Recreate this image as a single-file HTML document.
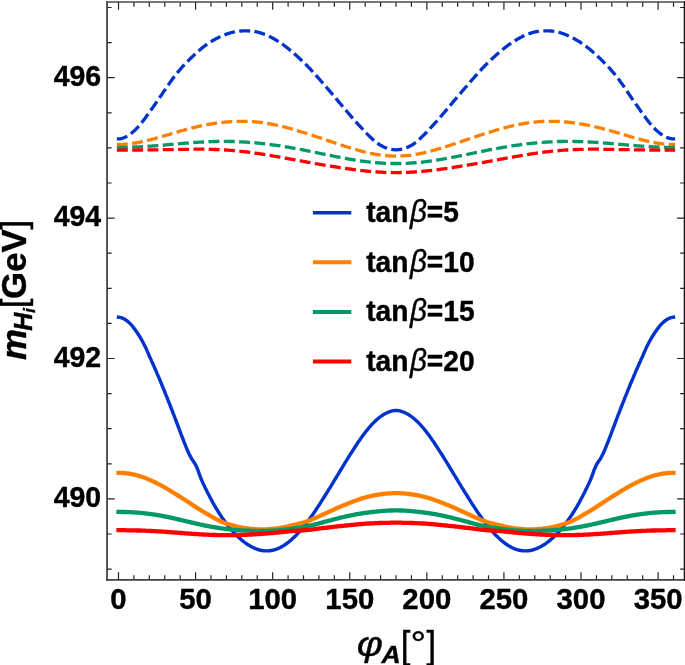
<!DOCTYPE html>
<html><head><meta charset="utf-8"><title>plot</title>
<style>
html,body{margin:0;padding:0;background:#fff;}
svg{display:block;will-change:transform;}
text{font-family:"Liberation Sans",sans-serif;font-weight:bold;fill:#000;stroke:#000;stroke-width:0.4px;stroke-linejoin:round;}
</style></head>
<body>
<svg width="685" height="665" viewBox="0 0 685 665">
<rect width="685" height="665" fill="#fff"/>
<g fill="none" stroke-linecap="square" stroke-linejoin="round">
<path d="M118.5 317.2 L119.3 317.3 L120.0 317.4 L120.8 317.6 L121.6 317.8 L122.4 318.1 L123.1 318.5 L123.9 318.8 L124.7 319.3 L125.4 319.7 L126.2 320.3 L127.0 320.8 L127.8 321.4 L128.5 322.1 L129.3 322.8 L130.1 323.6 L130.8 324.3 L131.6 325.2 L132.4 326.1 L133.1 327.1 L133.9 328.1 L134.7 329.1 L135.5 330.2 L136.2 331.3 L137.0 332.4 L137.8 333.6 L138.5 334.8 L139.3 336.0 L140.1 337.2 L140.9 338.5 L141.6 339.9 L142.4 341.2 L143.2 342.7 L143.9 344.2 L144.7 345.7 L145.5 347.3 L146.3 348.9 L147.0 350.6 L147.8 352.4 L148.6 354.3 L149.3 356.0 L150.1 357.7 L150.9 359.4 L151.6 361.1 L152.4 362.8 L153.2 364.6 L154.0 366.3 L154.7 368.0 L155.5 369.8 L156.3 371.6 L157.0 373.4 L157.8 375.2 L158.6 377.0 L159.4 378.8 L160.1 380.7 L160.9 382.5 L161.7 384.4 L162.4 386.3 L163.2 388.1 L164.0 390.0 L164.8 391.9 L165.5 393.9 L166.3 395.8 L167.1 397.7 L167.8 399.6 L168.6 401.6 L169.4 403.5 L170.1 405.5 L170.9 407.5 L171.7 409.5 L172.5 411.4 L173.2 413.4 L174.0 415.4 L174.8 417.5 L175.5 419.5 L176.3 421.5 L177.1 423.6 L177.9 425.6 L178.6 427.7 L179.4 429.7 L180.2 431.8 L180.9 433.8 L181.7 435.8 L182.5 437.8 L183.3 439.8 L184.0 441.8 L184.8 443.8 L185.6 445.7 L186.3 447.7 L187.1 449.6 L187.9 451.4 L188.6 453.0 L189.4 454.6 L190.2 456.1 L191.0 457.6 L191.7 458.9 L192.5 460.1 L193.3 461.2 L194.0 462.3 L194.8 463.5 L195.6 464.8 L196.4 466.4 L197.1 468.2 L197.9 470.2 L198.7 472.3 L199.4 474.4 L200.2 476.5 L201.0 478.5 L201.8 480.4 L202.5 482.1 L203.3 483.8 L204.1 485.4 L204.8 487.0 L205.6 488.6 L206.4 490.1 L207.1 491.7 L207.9 493.2 L208.7 494.7 L209.5 496.2 L210.2 497.7 L211.0 499.1 L211.8 500.6 L212.5 502.0 L213.3 503.4 L214.1 504.8 L214.9 506.1 L215.6 507.5 L216.4 508.8 L217.2 510.0 L217.9 511.3 L218.7 512.5 L219.5 513.7 L220.3 514.9 L221.0 516.0 L221.8 517.2 L222.6 518.3 L223.3 519.4 L224.1 520.4 L224.9 521.5 L225.6 522.6 L226.4 523.6 L227.2 524.6 L228.0 525.6 L228.7 526.6 L229.5 527.5 L230.3 528.5 L231.0 529.4 L231.8 530.3 L232.6 531.1 L233.4 532.0 L234.1 532.8 L234.9 533.6 L235.7 534.4 L236.4 535.2 L237.2 536.0 L238.0 536.7 L238.8 537.4 L239.5 538.1 L240.3 538.8 L241.1 539.5 L241.8 540.2 L242.6 540.8 L243.4 541.4 L244.1 542.0 L244.9 542.6 L245.7 543.2 L246.5 543.7 L247.2 544.2 L248.0 544.7 L248.8 545.2 L249.5 545.7 L250.3 546.1 L251.1 546.5 L251.9 546.9 L252.6 547.3 L253.4 547.7 L254.2 548.0 L254.9 548.4 L255.7 548.7 L256.5 549.0 L257.3 549.3 L258.0 549.5 L258.8 549.8 L259.6 550.0 L260.3 550.2 L261.1 550.3 L261.9 550.5 L262.6 550.6 L263.4 550.7 L264.2 550.8 L265.0 550.9 L265.7 550.9 L266.5 550.9 L267.3 550.9 L268.0 550.9 L268.8 550.8 L269.6 550.8 L270.4 550.7 L271.1 550.5 L271.9 550.4 L272.7 550.2 L273.4 550.1 L274.2 549.8 L275.0 549.6 L275.8 549.4 L276.5 549.1 L277.3 548.8 L278.1 548.5 L278.8 548.1 L279.6 547.8 L280.4 547.4 L281.1 547.0 L281.9 546.6 L282.7 546.1 L283.5 545.7 L284.2 545.2 L285.0 544.7 L285.8 544.2 L286.5 543.6 L287.3 543.0 L288.1 542.5 L288.9 541.9 L289.6 541.2 L290.4 540.6 L291.2 539.9 L291.9 539.2 L292.7 538.5 L293.5 537.8 L294.3 537.1 L295.0 536.3 L295.8 535.6 L296.6 534.8 L297.3 534.0 L298.1 533.1 L298.9 532.3 L299.6 531.4 L300.4 530.6 L301.2 529.7 L302.0 528.8 L302.7 527.8 L303.5 526.9 L304.3 525.9 L305.0 525.0 L305.8 524.0 L306.6 523.0 L307.4 522.0 L308.1 520.9 L308.9 519.9 L309.7 518.9 L310.4 517.8 L311.2 516.7 L312.0 515.6 L312.8 514.5 L313.5 513.4 L314.3 512.3 L315.1 511.1 L315.8 510.0 L316.6 508.8 L317.4 507.6 L318.2 506.5 L318.9 505.3 L319.7 504.1 L320.5 502.9 L321.2 501.7 L322.0 500.4 L322.8 499.2 L323.5 498.0 L324.3 496.8 L325.1 495.5 L325.9 494.3 L326.6 493.1 L327.4 491.8 L328.2 490.6 L328.9 489.3 L329.7 488.1 L330.5 486.8 L331.3 485.6 L332.0 484.3 L332.8 483.1 L333.6 481.8 L334.3 480.5 L335.1 479.3 L335.9 478.0 L336.7 476.7 L337.4 475.4 L338.2 474.2 L339.0 472.9 L339.7 471.6 L340.5 470.3 L341.3 469.0 L342.0 467.8 L342.8 466.5 L343.6 465.2 L344.4 463.9 L345.1 462.7 L345.9 461.4 L346.7 460.2 L347.4 458.9 L348.2 457.7 L349.0 456.4 L349.8 455.2 L350.5 454.0 L351.3 452.8 L352.1 451.6 L352.8 450.4 L353.6 449.2 L354.4 448.0 L355.2 446.8 L355.9 445.6 L356.7 444.5 L357.5 443.3 L358.2 442.1 L359.0 441.0 L359.8 439.9 L360.5 438.8 L361.3 437.7 L362.1 436.6 L362.9 435.6 L363.6 434.5 L364.4 433.5 L365.2 432.5 L365.9 431.5 L366.7 430.5 L367.5 429.6 L368.3 428.6 L369.0 427.7 L369.8 426.8 L370.6 425.9 L371.3 425.1 L372.1 424.2 L372.9 423.4 L373.7 422.6 L374.4 421.9 L375.2 421.1 L376.0 420.4 L376.7 419.7 L377.5 419.0 L378.3 418.4 L379.0 417.8 L379.8 417.2 L380.6 416.6 L381.4 416.1 L382.1 415.5 L382.9 415.0 L383.7 414.5 L384.4 414.1 L385.2 413.7 L386.0 413.3 L386.8 412.9 L387.5 412.5 L388.3 412.2 L389.1 411.9 L389.8 411.6 L390.6 411.4 L391.4 411.1 L392.2 410.9 L392.9 410.8 L393.7 410.6 L394.5 410.5 L395.2 410.5 L396.0 410.4 L396.8 410.5 L397.5 410.5 L398.3 410.6 L399.1 410.8 L399.9 410.9 L400.6 411.1 L401.4 411.4 L402.2 411.6 L402.9 411.9 L403.7 412.2 L404.5 412.5 L405.3 412.9 L406.0 413.3 L406.8 413.7 L407.6 414.1 L408.3 414.5 L409.1 415.0 L409.9 415.5 L410.7 416.1 L411.4 416.6 L412.2 417.2 L413.0 417.8 L413.7 418.4 L414.5 419.0 L415.3 419.7 L416.0 420.4 L416.8 421.1 L417.6 421.9 L418.4 422.6 L419.1 423.4 L419.9 424.2 L420.7 425.1 L421.4 425.9 L422.2 426.8 L423.0 427.7 L423.8 428.6 L424.5 429.6 L425.3 430.5 L426.1 431.5 L426.8 432.5 L427.6 433.5 L428.4 434.5 L429.2 435.6 L429.9 436.6 L430.7 437.7 L431.5 438.8 L432.2 439.9 L433.0 441.0 L433.8 442.1 L434.5 443.3 L435.3 444.5 L436.1 445.6 L436.9 446.8 L437.6 448.0 L438.4 449.2 L439.2 450.4 L439.9 451.6 L440.7 452.8 L441.5 454.0 L442.3 455.2 L443.0 456.4 L443.8 457.7 L444.6 458.9 L445.3 460.2 L446.1 461.4 L446.9 462.7 L447.7 463.9 L448.4 465.2 L449.2 466.5 L450.0 467.8 L450.7 469.0 L451.5 470.3 L452.3 471.6 L453.0 472.9 L453.8 474.2 L454.6 475.4 L455.4 476.7 L456.1 478.0 L456.9 479.3 L457.7 480.5 L458.4 481.8 L459.2 483.1 L460.0 484.3 L460.8 485.6 L461.5 486.8 L462.3 488.1 L463.1 489.3 L463.8 490.6 L464.6 491.8 L465.4 493.1 L466.2 494.3 L466.9 495.5 L467.7 496.8 L468.5 498.0 L469.2 499.2 L470.0 500.4 L470.8 501.7 L471.5 502.9 L472.3 504.1 L473.1 505.3 L473.9 506.5 L474.6 507.6 L475.4 508.8 L476.2 510.0 L476.9 511.1 L477.7 512.3 L478.5 513.4 L479.3 514.5 L480.0 515.6 L480.8 516.7 L481.6 517.8 L482.3 518.9 L483.1 519.9 L483.9 520.9 L484.7 522.0 L485.4 523.0 L486.2 524.0 L487.0 525.0 L487.7 525.9 L488.5 526.9 L489.3 527.8 L490.0 528.8 L490.8 529.7 L491.6 530.6 L492.4 531.4 L493.1 532.3 L493.9 533.1 L494.7 534.0 L495.4 534.8 L496.2 535.6 L497.0 536.3 L497.8 537.1 L498.5 537.8 L499.3 538.5 L500.1 539.2 L500.8 539.9 L501.6 540.6 L502.4 541.2 L503.2 541.9 L503.9 542.5 L504.7 543.0 L505.5 543.6 L506.2 544.2 L507.0 544.7 L507.8 545.2 L508.6 545.7 L509.3 546.1 L510.1 546.6 L510.9 547.0 L511.6 547.4 L512.4 547.8 L513.2 548.1 L513.9 548.5 L514.7 548.8 L515.5 549.1 L516.3 549.4 L517.0 549.6 L517.8 549.8 L518.6 550.1 L519.3 550.2 L520.1 550.4 L520.9 550.5 L521.7 550.7 L522.4 550.8 L523.2 550.8 L524.0 550.9 L524.7 550.9 L525.5 550.9 L526.3 550.9 L527.1 550.9 L527.8 550.8 L528.6 550.7 L529.4 550.6 L530.1 550.5 L530.9 550.3 L531.7 550.2 L532.4 550.0 L533.2 549.8 L534.0 549.5 L534.8 549.3 L535.5 549.0 L536.3 548.7 L537.1 548.4 L537.8 548.0 L538.6 547.7 L539.4 547.3 L540.2 546.9 L540.9 546.5 L541.7 546.1 L542.5 545.7 L543.2 545.2 L544.0 544.7 L544.8 544.2 L545.6 543.7 L546.3 543.2 L547.1 542.6 L547.9 542.0 L548.6 541.4 L549.4 540.8 L550.2 540.2 L550.9 539.5 L551.7 538.8 L552.5 538.1 L553.3 537.4 L554.0 536.7 L554.8 536.0 L555.6 535.2 L556.3 534.4 L557.1 533.6 L557.9 532.8 L558.7 532.0 L559.4 531.1 L560.2 530.3 L561.0 529.4 L561.7 528.5 L562.5 527.5 L563.3 526.6 L564.1 525.6 L564.8 524.6 L565.6 523.6 L566.4 522.6 L567.1 521.5 L567.9 520.4 L568.7 519.4 L569.4 518.3 L570.2 517.2 L571.0 516.0 L571.8 514.9 L572.5 513.7 L573.3 512.5 L574.1 511.3 L574.8 510.0 L575.6 508.8 L576.4 507.5 L577.2 506.1 L577.9 504.8 L578.7 503.4 L579.5 502.0 L580.2 500.6 L581.0 499.1 L581.8 497.7 L582.6 496.2 L583.3 494.7 L584.1 493.2 L584.9 491.7 L585.6 490.1 L586.4 488.6 L587.2 487.0 L587.9 485.4 L588.7 483.8 L589.5 482.1 L590.3 480.4 L591.0 478.5 L591.8 476.5 L592.6 474.4 L593.3 472.3 L594.1 470.2 L594.9 468.2 L595.7 466.4 L596.4 464.8 L597.2 463.5 L598.0 462.3 L598.7 461.2 L599.5 460.1 L600.3 458.9 L601.1 457.6 L601.8 456.1 L602.6 454.6 L603.4 453.0 L604.1 451.4 L604.9 449.6 L605.7 447.7 L606.4 445.7 L607.2 443.8 L608.0 441.8 L608.8 439.8 L609.5 437.8 L610.3 435.8 L611.1 433.8 L611.8 431.8 L612.6 429.7 L613.4 427.7 L614.2 425.6 L614.9 423.6 L615.7 421.5 L616.5 419.5 L617.2 417.5 L618.0 415.4 L618.8 413.4 L619.6 411.4 L620.3 409.5 L621.1 407.5 L621.9 405.5 L622.6 403.5 L623.4 401.6 L624.2 399.6 L624.9 397.7 L625.7 395.8 L626.5 393.9 L627.3 391.9 L628.0 390.0 L628.8 388.1 L629.6 386.3 L630.3 384.4 L631.1 382.5 L631.9 380.7 L632.7 378.8 L633.4 377.0 L634.2 375.2 L635.0 373.4 L635.7 371.6 L636.5 369.8 L637.3 368.0 L638.1 366.3 L638.8 364.6 L639.6 362.8 L640.4 361.1 L641.1 359.4 L641.9 357.7 L642.7 356.0 L643.4 354.3 L644.2 352.4 L645.0 350.6 L645.8 348.9 L646.5 347.3 L647.3 345.7 L648.1 344.2 L648.8 342.7 L649.6 341.2 L650.4 339.9 L651.2 338.5 L651.9 337.2 L652.7 336.0 L653.5 334.8 L654.2 333.6 L655.0 332.4 L655.8 331.3 L656.6 330.2 L657.3 329.1 L658.1 328.1 L658.9 327.1 L659.6 326.1 L660.4 325.2 L661.2 324.3 L661.9 323.6 L662.7 322.8 L663.5 322.1 L664.3 321.4 L665.0 320.8 L665.8 320.3 L666.6 319.7 L667.3 319.3 L668.1 318.8 L668.9 318.5 L669.7 318.1 L670.4 317.8 L671.2 317.6 L672.0 317.4 L672.7 317.3 L673.5 317.2" stroke="#0033cc" stroke-width="3.4" />
<path d="M118.5 138.9 L119.3 138.9 L120.0 138.8 L120.8 138.6 L121.6 138.5 L122.4 138.3 L123.1 138.0 L123.9 137.7 L124.7 137.4 L125.4 137.1 L126.2 136.7 L127.0 136.3 L127.8 135.8 L128.5 135.3 L129.3 134.8 L130.1 134.3 L130.8 133.7 L131.6 133.1 L132.4 132.4 L133.1 131.8 L133.9 131.1 L134.7 130.4 L135.5 129.6 L136.2 128.8 L137.0 128.0 L137.8 127.2 L138.5 126.3 L139.3 125.4 L140.1 124.5 L140.9 123.6 L141.6 122.6 L142.4 121.7 L143.2 120.7 L143.9 119.7 L144.7 118.7 L145.5 117.6 L146.3 116.6 L147.0 115.5 L147.8 114.5 L148.6 113.4 L149.3 112.4 L150.1 111.3 L150.9 110.2 L151.6 109.1 L152.4 108.1 L153.2 106.9 L154.0 105.8 L154.7 104.7 L155.5 103.6 L156.3 102.5 L157.0 101.4 L157.8 100.3 L158.6 99.2 L159.4 98.1 L160.1 97.0 L160.9 95.8 L161.7 94.7 L162.4 93.5 L163.2 92.4 L164.0 91.2 L164.8 90.1 L165.5 89.0 L166.3 87.8 L167.1 86.7 L167.8 85.6 L168.6 84.5 L169.4 83.4 L170.1 82.3 L170.9 81.2 L171.7 80.1 L172.5 79.1 L173.2 78.0 L174.0 77.0 L174.8 76.0 L175.5 75.0 L176.3 74.1 L177.1 73.1 L177.9 72.1 L178.6 71.2 L179.4 70.3 L180.2 69.4 L180.9 68.5 L181.7 67.6 L182.5 66.7 L183.3 65.9 L184.0 65.0 L184.8 64.2 L185.6 63.4 L186.3 62.6 L187.1 61.8 L187.9 61.1 L188.6 60.3 L189.4 59.5 L190.2 58.8 L191.0 58.0 L191.7 57.3 L192.5 56.6 L193.3 55.8 L194.0 55.1 L194.8 54.4 L195.6 53.6 L196.4 52.9 L197.1 52.2 L197.9 51.5 L198.7 50.8 L199.4 50.2 L200.2 49.5 L201.0 48.9 L201.8 48.2 L202.5 47.6 L203.3 47.0 L204.1 46.4 L204.8 45.9 L205.6 45.3 L206.4 44.7 L207.1 44.2 L207.9 43.7 L208.7 43.2 L209.5 42.6 L210.2 42.1 L211.0 41.7 L211.8 41.2 L212.5 40.7 L213.3 40.3 L214.1 39.8 L214.9 39.4 L215.6 39.0 L216.4 38.6 L217.2 38.2 L217.9 37.8 L218.7 37.4 L219.5 37.1 L220.3 36.7 L221.0 36.3 L221.8 36.0 L222.6 35.7 L223.3 35.3 L224.1 35.0 L224.9 34.7 L225.6 34.4 L226.4 34.1 L227.2 33.9 L228.0 33.6 L228.7 33.4 L229.5 33.1 L230.3 32.9 L231.0 32.7 L231.8 32.5 L232.6 32.3 L233.4 32.1 L234.1 32.0 L234.9 31.8 L235.7 31.7 L236.4 31.6 L237.2 31.4 L238.0 31.3 L238.8 31.2 L239.5 31.1 L240.3 31.1 L241.1 31.0 L241.8 30.9 L242.6 30.9 L243.4 30.8 L244.1 30.8 L244.9 30.8 L245.7 30.8 L246.5 30.8 L247.2 30.8 L248.0 30.8 L248.8 30.9 L249.5 30.9 L250.3 31.0 L251.1 31.0 L251.9 31.1 L252.6 31.2 L253.4 31.3 L254.2 31.4 L254.9 31.6 L255.7 31.7 L256.5 31.9 L257.3 32.0 L258.0 32.2 L258.8 32.4 L259.6 32.6 L260.3 32.9 L261.1 33.1 L261.9 33.3 L262.6 33.6 L263.4 33.9 L264.2 34.1 L265.0 34.4 L265.7 34.8 L266.5 35.1 L267.3 35.4 L268.0 35.8 L268.8 36.1 L269.6 36.5 L270.4 36.9 L271.1 37.3 L271.9 37.7 L272.7 38.1 L273.4 38.6 L274.2 39.0 L275.0 39.4 L275.8 39.9 L276.5 40.4 L277.3 40.8 L278.1 41.3 L278.8 41.8 L279.6 42.3 L280.4 42.8 L281.1 43.3 L281.9 43.9 L282.7 44.4 L283.5 44.9 L284.2 45.5 L285.0 46.1 L285.8 46.7 L286.5 47.2 L287.3 47.9 L288.1 48.5 L288.9 49.1 L289.6 49.7 L290.4 50.3 L291.2 51.0 L291.9 51.6 L292.7 52.3 L293.5 53.0 L294.3 53.6 L295.0 54.3 L295.8 55.0 L296.6 55.7 L297.3 56.4 L298.1 57.1 L298.9 57.8 L299.6 58.5 L300.4 59.2 L301.2 60.0 L302.0 60.7 L302.7 61.4 L303.5 62.2 L304.3 62.9 L305.0 63.7 L305.8 64.4 L306.6 65.2 L307.4 66.0 L308.1 66.8 L308.9 67.6 L309.7 68.4 L310.4 69.2 L311.2 70.1 L312.0 70.9 L312.8 71.8 L313.5 72.6 L314.3 73.5 L315.1 74.3 L315.8 75.2 L316.6 76.0 L317.4 76.9 L318.2 77.8 L318.9 78.6 L319.7 79.5 L320.5 80.4 L321.2 81.3 L322.0 82.1 L322.8 83.0 L323.5 83.9 L324.3 84.8 L325.1 85.7 L325.9 86.6 L326.6 87.5 L327.4 88.4 L328.2 89.3 L328.9 90.2 L329.7 91.1 L330.5 92.0 L331.3 92.9 L332.0 93.8 L332.8 94.7 L333.6 95.6 L334.3 96.6 L335.1 97.5 L335.9 98.4 L336.7 99.3 L337.4 100.2 L338.2 101.1 L339.0 102.1 L339.7 103.0 L340.5 103.9 L341.3 104.8 L342.0 105.7 L342.8 106.7 L343.6 107.6 L344.4 108.5 L345.1 109.4 L345.9 110.3 L346.7 111.2 L347.4 112.1 L348.2 113.0 L349.0 113.9 L349.8 114.8 L350.5 115.7 L351.3 116.6 L352.1 117.5 L352.8 118.4 L353.6 119.3 L354.4 120.1 L355.2 121.0 L355.9 121.9 L356.7 122.7 L357.5 123.6 L358.2 124.4 L359.0 125.2 L359.8 126.1 L360.5 126.9 L361.3 127.7 L362.1 128.6 L362.9 129.4 L363.6 130.2 L364.4 131.1 L365.2 131.9 L365.9 132.7 L366.7 133.5 L367.5 134.3 L368.3 135.1 L369.0 135.8 L369.8 136.6 L370.6 137.3 L371.3 138.0 L372.1 138.8 L372.9 139.5 L373.7 140.1 L374.4 140.8 L375.2 141.5 L376.0 142.1 L376.7 142.7 L377.5 143.3 L378.3 143.8 L379.0 144.4 L379.8 144.8 L380.6 145.3 L381.4 145.7 L382.1 146.1 L382.9 146.5 L383.7 146.9 L384.4 147.2 L385.2 147.6 L386.0 147.9 L386.8 148.1 L387.5 148.4 L388.3 148.6 L389.1 148.8 L389.8 149.0 L390.6 149.2 L391.4 149.4 L392.2 149.5 L392.9 149.6 L393.7 149.7 L394.5 149.7 L395.2 149.8 L396.0 149.8 L396.8 149.8 L397.5 149.7 L398.3 149.7 L399.1 149.6 L399.9 149.5 L400.6 149.4 L401.4 149.2 L402.2 149.0 L402.9 148.8 L403.7 148.6 L404.5 148.4 L405.3 148.1 L406.0 147.9 L406.8 147.6 L407.6 147.2 L408.3 146.9 L409.1 146.5 L409.9 146.1 L410.7 145.7 L411.4 145.3 L412.2 144.8 L413.0 144.4 L413.7 143.8 L414.5 143.3 L415.3 142.7 L416.0 142.1 L416.8 141.5 L417.6 140.8 L418.4 140.1 L419.1 139.5 L419.9 138.8 L420.7 138.0 L421.4 137.3 L422.2 136.6 L423.0 135.8 L423.8 135.1 L424.5 134.3 L425.3 133.5 L426.1 132.7 L426.8 131.9 L427.6 131.1 L428.4 130.2 L429.2 129.4 L429.9 128.6 L430.7 127.7 L431.5 126.9 L432.2 126.1 L433.0 125.2 L433.8 124.4 L434.5 123.6 L435.3 122.7 L436.1 121.9 L436.9 121.0 L437.6 120.1 L438.4 119.3 L439.2 118.4 L439.9 117.5 L440.7 116.6 L441.5 115.7 L442.3 114.8 L443.0 113.9 L443.8 113.0 L444.6 112.1 L445.3 111.2 L446.1 110.3 L446.9 109.4 L447.7 108.5 L448.4 107.6 L449.2 106.7 L450.0 105.7 L450.7 104.8 L451.5 103.9 L452.3 103.0 L453.0 102.1 L453.8 101.1 L454.6 100.2 L455.4 99.3 L456.1 98.4 L456.9 97.5 L457.7 96.6 L458.4 95.6 L459.2 94.7 L460.0 93.8 L460.8 92.9 L461.5 92.0 L462.3 91.1 L463.1 90.2 L463.8 89.3 L464.6 88.4 L465.4 87.5 L466.2 86.6 L466.9 85.7 L467.7 84.8 L468.5 83.9 L469.2 83.0 L470.0 82.1 L470.8 81.3 L471.5 80.4 L472.3 79.5 L473.1 78.6 L473.9 77.8 L474.6 76.9 L475.4 76.0 L476.2 75.2 L476.9 74.3 L477.7 73.5 L478.5 72.6 L479.3 71.8 L480.0 70.9 L480.8 70.1 L481.6 69.2 L482.3 68.4 L483.1 67.6 L483.9 66.8 L484.7 66.0 L485.4 65.2 L486.2 64.4 L487.0 63.7 L487.7 62.9 L488.5 62.2 L489.3 61.4 L490.0 60.7 L490.8 60.0 L491.6 59.2 L492.4 58.5 L493.1 57.8 L493.9 57.1 L494.7 56.4 L495.4 55.7 L496.2 55.0 L497.0 54.3 L497.8 53.6 L498.5 53.0 L499.3 52.3 L500.1 51.6 L500.8 51.0 L501.6 50.3 L502.4 49.7 L503.2 49.1 L503.9 48.5 L504.7 47.9 L505.5 47.2 L506.2 46.7 L507.0 46.1 L507.8 45.5 L508.6 44.9 L509.3 44.4 L510.1 43.9 L510.9 43.3 L511.6 42.8 L512.4 42.3 L513.2 41.8 L513.9 41.3 L514.7 40.8 L515.5 40.4 L516.3 39.9 L517.0 39.4 L517.8 39.0 L518.6 38.6 L519.3 38.1 L520.1 37.7 L520.9 37.3 L521.7 36.9 L522.4 36.5 L523.2 36.1 L524.0 35.8 L524.7 35.4 L525.5 35.1 L526.3 34.8 L527.1 34.4 L527.8 34.1 L528.6 33.9 L529.4 33.6 L530.1 33.3 L530.9 33.1 L531.7 32.9 L532.4 32.6 L533.2 32.4 L534.0 32.2 L534.8 32.0 L535.5 31.9 L536.3 31.7 L537.1 31.6 L537.8 31.4 L538.6 31.3 L539.4 31.2 L540.2 31.1 L540.9 31.0 L541.7 31.0 L542.5 30.9 L543.2 30.9 L544.0 30.8 L544.8 30.8 L545.6 30.8 L546.3 30.8 L547.1 30.8 L547.9 30.8 L548.6 30.8 L549.4 30.9 L550.2 30.9 L550.9 31.0 L551.7 31.1 L552.5 31.2 L553.3 31.3 L554.0 31.4 L554.8 31.5 L555.6 31.6 L556.3 31.8 L557.1 31.9 L557.9 32.1 L558.7 32.3 L559.4 32.5 L560.2 32.7 L561.0 32.9 L561.7 33.2 L562.5 33.5 L563.3 33.7 L564.1 34.0 L564.8 34.3 L565.6 34.6 L566.4 34.9 L567.1 35.3 L567.9 35.6 L568.7 36.0 L569.4 36.3 L570.2 36.7 L571.0 37.1 L571.8 37.4 L572.5 37.8 L573.3 38.2 L574.1 38.6 L574.8 39.0 L575.6 39.5 L576.4 39.9 L577.2 40.3 L577.9 40.8 L578.7 41.3 L579.5 41.7 L580.2 42.2 L581.0 42.8 L581.8 43.3 L582.6 43.8 L583.3 44.3 L584.1 44.9 L584.9 45.5 L585.6 46.0 L586.4 46.6 L587.2 47.2 L587.9 47.8 L588.7 48.4 L589.5 49.0 L590.3 49.6 L591.0 50.3 L591.8 51.0 L592.6 51.6 L593.3 52.3 L594.1 53.0 L594.9 53.7 L595.7 54.4 L596.4 55.1 L597.2 55.9 L598.0 56.6 L598.7 57.3 L599.5 58.1 L600.3 58.8 L601.1 59.5 L601.8 60.3 L602.6 61.0 L603.4 61.8 L604.1 62.6 L604.9 63.3 L605.7 64.1 L606.4 64.9 L607.2 65.7 L608.0 66.5 L608.8 67.4 L609.5 68.2 L610.3 69.1 L611.1 70.0 L611.8 70.9 L612.6 71.8 L613.4 72.7 L614.2 73.6 L614.9 74.6 L615.7 75.5 L616.5 76.5 L617.2 77.5 L618.0 78.5 L618.8 79.5 L619.6 80.5 L620.3 81.6 L621.1 82.7 L621.9 83.7 L622.6 84.8 L623.4 85.9 L624.2 87.0 L624.9 88.2 L625.7 89.3 L626.5 90.4 L627.3 91.6 L628.0 92.7 L628.8 93.8 L629.6 95.0 L630.3 96.1 L631.1 97.3 L631.9 98.4 L632.7 99.5 L633.4 100.6 L634.2 101.7 L635.0 102.8 L635.7 103.9 L636.5 105.0 L637.3 106.1 L638.1 107.2 L638.8 108.3 L639.6 109.4 L640.4 110.5 L641.1 111.6 L641.9 112.7 L642.7 113.7 L643.4 114.8 L644.2 115.8 L645.0 116.9 L645.8 117.9 L646.5 119.0 L647.3 120.0 L648.1 121.0 L648.8 122.0 L649.6 123.0 L650.4 123.9 L651.2 124.9 L651.9 125.8 L652.7 126.6 L653.5 127.5 L654.2 128.3 L655.0 129.0 L655.8 129.8 L656.6 130.5 L657.3 131.2 L658.1 131.8 L658.9 132.4 L659.6 133.0 L660.4 133.6 L661.2 134.2 L661.9 134.7 L662.7 135.2 L663.5 135.7 L664.3 136.2 L665.0 136.6 L665.8 137.0 L666.6 137.3 L667.3 137.6 L668.1 137.9 L668.9 138.2 L669.7 138.4 L670.4 138.6 L671.2 138.7 L672.0 138.8 L672.7 138.9 L673.5 138.9" stroke="#0033cc" stroke-width="3.3" stroke-dasharray="7.65 7.68" />
<path d="M118.5 472.8 L119.3 472.8 L120.0 472.8 L120.8 472.9 L121.6 472.9 L122.4 472.9 L123.1 473.0 L123.9 473.0 L124.7 473.1 L125.4 473.2 L126.2 473.3 L127.0 473.3 L127.8 473.4 L128.5 473.6 L129.3 473.7 L130.1 473.8 L130.8 473.9 L131.6 474.1 L132.4 474.2 L133.1 474.4 L133.9 474.6 L134.7 474.7 L135.5 474.9 L136.2 475.1 L137.0 475.3 L137.8 475.5 L138.5 475.8 L139.3 476.0 L140.1 476.2 L140.9 476.5 L141.6 476.7 L142.4 477.0 L143.2 477.3 L143.9 477.5 L144.7 477.8 L145.5 478.1 L146.3 478.4 L147.0 478.7 L147.8 479.0 L148.6 479.4 L149.3 479.7 L150.1 480.0 L150.9 480.4 L151.6 480.7 L152.4 481.1 L153.2 481.4 L154.0 481.8 L154.7 482.2 L155.5 482.5 L156.3 482.9 L157.0 483.3 L157.8 483.7 L158.6 484.1 L159.4 484.5 L160.1 484.9 L160.9 485.3 L161.7 485.7 L162.4 486.2 L163.2 486.6 L164.0 487.0 L164.8 487.5 L165.5 487.9 L166.3 488.3 L167.1 488.8 L167.8 489.2 L168.6 489.7 L169.4 490.2 L170.1 490.6 L170.9 491.1 L171.7 491.6 L172.5 492.1 L173.2 492.5 L174.0 493.0 L174.8 493.5 L175.5 494.0 L176.3 494.5 L177.1 494.9 L177.9 495.4 L178.6 495.9 L179.4 496.4 L180.2 496.9 L180.9 497.4 L181.7 497.9 L182.5 498.4 L183.3 498.8 L184.0 499.3 L184.8 499.8 L185.6 500.3 L186.3 500.8 L187.1 501.3 L187.9 501.8 L188.6 502.4 L189.4 502.9 L190.2 503.4 L191.0 503.9 L191.7 504.4 L192.5 504.9 L193.3 505.4 L194.0 505.9 L194.8 506.4 L195.6 506.9 L196.4 507.4 L197.1 507.9 L197.9 508.4 L198.7 508.9 L199.4 509.4 L200.2 509.8 L201.0 510.3 L201.8 510.8 L202.5 511.2 L203.3 511.7 L204.1 512.2 L204.8 512.6 L205.6 513.1 L206.4 513.5 L207.1 514.0 L207.9 514.4 L208.7 514.9 L209.5 515.3 L210.2 515.8 L211.0 516.2 L211.8 516.7 L212.5 517.1 L213.3 517.5 L214.1 518.0 L214.9 518.4 L215.6 518.8 L216.4 519.2 L217.2 519.6 L217.9 520.0 L218.7 520.4 L219.5 520.7 L220.3 521.1 L221.0 521.4 L221.8 521.8 L222.6 522.1 L223.3 522.4 L224.1 522.7 L224.9 522.9 L225.6 523.2 L226.4 523.5 L227.2 523.8 L228.0 524.0 L228.7 524.3 L229.5 524.5 L230.3 524.7 L231.0 525.0 L231.8 525.2 L232.6 525.4 L233.4 525.6 L234.1 525.8 L234.9 526.0 L235.7 526.2 L236.4 526.4 L237.2 526.6 L238.0 526.8 L238.8 526.9 L239.5 527.1 L240.3 527.3 L241.1 527.4 L241.8 527.5 L242.6 527.7 L243.4 527.8 L244.1 527.9 L244.9 528.1 L245.7 528.2 L246.5 528.3 L247.2 528.4 L248.0 528.5 L248.8 528.6 L249.5 528.7 L250.3 528.8 L251.1 528.8 L251.9 528.9 L252.6 529.0 L253.4 529.0 L254.2 529.1 L254.9 529.1 L255.7 529.2 L256.5 529.2 L257.3 529.3 L258.0 529.3 L258.8 529.3 L259.6 529.3 L260.3 529.3 L261.1 529.3 L261.9 529.3 L262.6 529.3 L263.4 529.3 L264.2 529.3 L265.0 529.3 L265.7 529.3 L266.5 529.3 L267.3 529.2 L268.0 529.2 L268.8 529.1 L269.6 529.1 L270.4 529.0 L271.1 529.0 L271.9 528.9 L272.7 528.8 L273.4 528.8 L274.2 528.7 L275.0 528.6 L275.8 528.5 L276.5 528.4 L277.3 528.3 L278.1 528.2 L278.8 528.1 L279.6 528.0 L280.4 527.8 L281.1 527.7 L281.9 527.6 L282.7 527.4 L283.5 527.3 L284.2 527.1 L285.0 527.0 L285.8 526.8 L286.5 526.6 L287.3 526.5 L288.1 526.3 L288.9 526.1 L289.6 525.9 L290.4 525.7 L291.2 525.6 L291.9 525.4 L292.7 525.2 L293.5 525.0 L294.3 524.9 L295.0 524.7 L295.8 524.5 L296.6 524.3 L297.3 524.1 L298.1 523.9 L298.9 523.7 L299.6 523.6 L300.4 523.3 L301.2 523.1 L302.0 522.9 L302.7 522.7 L303.5 522.5 L304.3 522.2 L305.0 522.0 L305.8 521.7 L306.6 521.5 L307.4 521.2 L308.1 520.9 L308.9 520.7 L309.7 520.4 L310.4 520.1 L311.2 519.7 L312.0 519.4 L312.8 519.1 L313.5 518.8 L314.3 518.4 L315.1 518.1 L315.8 517.8 L316.6 517.4 L317.4 517.1 L318.2 516.7 L318.9 516.4 L319.7 516.0 L320.5 515.7 L321.2 515.3 L322.0 515.0 L322.8 514.6 L323.5 514.3 L324.3 513.9 L325.1 513.6 L325.9 513.2 L326.6 512.8 L327.4 512.5 L328.2 512.1 L328.9 511.8 L329.7 511.4 L330.5 511.1 L331.3 510.7 L332.0 510.4 L332.8 510.0 L333.6 509.7 L334.3 509.3 L335.1 509.0 L335.9 508.6 L336.7 508.3 L337.4 507.9 L338.2 507.6 L339.0 507.3 L339.7 506.9 L340.5 506.6 L341.3 506.3 L342.0 506.0 L342.8 505.6 L343.6 505.3 L344.4 505.0 L345.1 504.7 L345.9 504.4 L346.7 504.1 L347.4 503.8 L348.2 503.4 L349.0 503.1 L349.8 502.8 L350.5 502.5 L351.3 502.2 L352.1 501.9 L352.8 501.6 L353.6 501.3 L354.4 501.1 L355.2 500.8 L355.9 500.5 L356.7 500.2 L357.5 499.9 L358.2 499.7 L359.0 499.4 L359.8 499.1 L360.5 498.9 L361.3 498.6 L362.1 498.4 L362.9 498.2 L363.6 497.9 L364.4 497.7 L365.2 497.5 L365.9 497.3 L366.7 497.1 L367.5 496.9 L368.3 496.7 L369.0 496.5 L369.8 496.3 L370.6 496.1 L371.3 496.0 L372.1 495.8 L372.9 495.6 L373.7 495.5 L374.4 495.3 L375.2 495.2 L376.0 495.0 L376.7 494.9 L377.5 494.8 L378.3 494.6 L379.0 494.5 L379.8 494.4 L380.6 494.3 L381.4 494.2 L382.1 494.1 L382.9 494.0 L383.7 493.9 L384.4 493.8 L385.2 493.7 L386.0 493.6 L386.8 493.6 L387.5 493.5 L388.3 493.4 L389.1 493.4 L389.8 493.3 L390.6 493.3 L391.4 493.3 L392.2 493.2 L392.9 493.2 L393.7 493.2 L394.5 493.2 L395.2 493.2 L396.0 493.2 L396.8 493.2 L397.5 493.2 L398.3 493.2 L399.1 493.2 L399.9 493.2 L400.6 493.3 L401.4 493.3 L402.2 493.3 L402.9 493.4 L403.7 493.4 L404.5 493.5 L405.3 493.6 L406.0 493.6 L406.8 493.7 L407.6 493.8 L408.3 493.9 L409.1 494.0 L409.9 494.1 L410.7 494.2 L411.4 494.3 L412.2 494.4 L413.0 494.5 L413.7 494.6 L414.5 494.8 L415.3 494.9 L416.0 495.0 L416.8 495.2 L417.6 495.3 L418.4 495.5 L419.1 495.6 L419.9 495.8 L420.7 496.0 L421.4 496.1 L422.2 496.3 L423.0 496.5 L423.8 496.7 L424.5 496.9 L425.3 497.1 L426.1 497.3 L426.8 497.5 L427.6 497.7 L428.4 497.9 L429.2 498.2 L429.9 498.4 L430.7 498.6 L431.5 498.9 L432.2 499.1 L433.0 499.4 L433.8 499.7 L434.5 499.9 L435.3 500.2 L436.1 500.5 L436.9 500.8 L437.6 501.1 L438.4 501.3 L439.2 501.6 L439.9 501.9 L440.7 502.2 L441.5 502.5 L442.3 502.8 L443.0 503.1 L443.8 503.4 L444.6 503.8 L445.3 504.1 L446.1 504.4 L446.9 504.7 L447.7 505.0 L448.4 505.3 L449.2 505.6 L450.0 506.0 L450.7 506.3 L451.5 506.6 L452.3 506.9 L453.0 507.3 L453.8 507.6 L454.6 507.9 L455.4 508.3 L456.1 508.6 L456.9 509.0 L457.7 509.3 L458.4 509.7 L459.2 510.0 L460.0 510.4 L460.8 510.7 L461.5 511.1 L462.3 511.4 L463.1 511.8 L463.8 512.1 L464.6 512.5 L465.4 512.8 L466.2 513.2 L466.9 513.6 L467.7 513.9 L468.5 514.3 L469.2 514.6 L470.0 515.0 L470.8 515.3 L471.5 515.7 L472.3 516.0 L473.1 516.4 L473.9 516.7 L474.6 517.1 L475.4 517.4 L476.2 517.8 L476.9 518.1 L477.7 518.4 L478.5 518.8 L479.3 519.1 L480.0 519.4 L480.8 519.7 L481.6 520.1 L482.3 520.4 L483.1 520.7 L483.9 520.9 L484.7 521.2 L485.4 521.5 L486.2 521.7 L487.0 522.0 L487.7 522.2 L488.5 522.5 L489.3 522.7 L490.0 522.9 L490.8 523.1 L491.6 523.3 L492.4 523.6 L493.1 523.7 L493.9 523.9 L494.7 524.1 L495.4 524.3 L496.2 524.5 L497.0 524.7 L497.8 524.9 L498.5 525.0 L499.3 525.2 L500.1 525.4 L500.8 525.6 L501.6 525.7 L502.4 525.9 L503.2 526.1 L503.9 526.3 L504.7 526.5 L505.5 526.6 L506.2 526.8 L507.0 527.0 L507.8 527.1 L508.6 527.3 L509.3 527.4 L510.1 527.6 L510.9 527.7 L511.6 527.8 L512.4 528.0 L513.2 528.1 L513.9 528.2 L514.7 528.3 L515.5 528.4 L516.3 528.5 L517.0 528.6 L517.8 528.7 L518.6 528.8 L519.3 528.8 L520.1 528.9 L520.9 529.0 L521.7 529.0 L522.4 529.1 L523.2 529.1 L524.0 529.2 L524.7 529.2 L525.5 529.3 L526.3 529.3 L527.1 529.3 L527.8 529.3 L528.6 529.3 L529.4 529.3 L530.1 529.3 L530.9 529.3 L531.7 529.3 L532.4 529.3 L533.2 529.3 L534.0 529.3 L534.8 529.3 L535.5 529.2 L536.3 529.2 L537.1 529.1 L537.8 529.1 L538.6 529.0 L539.4 529.0 L540.2 528.9 L540.9 528.8 L541.7 528.8 L542.5 528.7 L543.2 528.6 L544.0 528.5 L544.8 528.4 L545.6 528.3 L546.3 528.2 L547.1 528.1 L547.9 527.9 L548.6 527.8 L549.4 527.7 L550.2 527.5 L550.9 527.4 L551.7 527.3 L552.5 527.1 L553.3 526.9 L554.0 526.8 L554.8 526.6 L555.6 526.4 L556.3 526.2 L557.1 526.0 L557.9 525.8 L558.7 525.6 L559.4 525.4 L560.2 525.2 L561.0 525.0 L561.7 524.7 L562.5 524.5 L563.3 524.3 L564.1 524.0 L564.8 523.8 L565.6 523.5 L566.4 523.2 L567.1 522.9 L567.9 522.7 L568.7 522.4 L569.4 522.1 L570.2 521.8 L571.0 521.4 L571.8 521.1 L572.5 520.7 L573.3 520.4 L574.1 520.0 L574.8 519.6 L575.6 519.2 L576.4 518.8 L577.2 518.4 L577.9 518.0 L578.7 517.5 L579.5 517.1 L580.2 516.7 L581.0 516.2 L581.8 515.8 L582.6 515.3 L583.3 514.9 L584.1 514.4 L584.9 514.0 L585.6 513.5 L586.4 513.1 L587.2 512.6 L587.9 512.2 L588.7 511.7 L589.5 511.2 L590.3 510.8 L591.0 510.3 L591.8 509.8 L592.6 509.4 L593.3 508.9 L594.1 508.4 L594.9 507.9 L595.7 507.4 L596.4 506.9 L597.2 506.4 L598.0 505.9 L598.7 505.4 L599.5 504.9 L600.3 504.4 L601.1 503.9 L601.8 503.4 L602.6 502.9 L603.4 502.4 L604.1 501.8 L604.9 501.3 L605.7 500.8 L606.4 500.3 L607.2 499.8 L608.0 499.3 L608.8 498.8 L609.5 498.4 L610.3 497.9 L611.1 497.4 L611.8 496.9 L612.6 496.4 L613.4 495.9 L614.2 495.4 L614.9 494.9 L615.7 494.5 L616.5 494.0 L617.2 493.5 L618.0 493.0 L618.8 492.5 L619.6 492.1 L620.3 491.6 L621.1 491.1 L621.9 490.6 L622.6 490.2 L623.4 489.7 L624.2 489.2 L624.9 488.8 L625.7 488.3 L626.5 487.9 L627.3 487.5 L628.0 487.0 L628.8 486.6 L629.6 486.2 L630.3 485.7 L631.1 485.3 L631.9 484.9 L632.7 484.5 L633.4 484.1 L634.2 483.7 L635.0 483.3 L635.7 482.9 L636.5 482.5 L637.3 482.2 L638.1 481.8 L638.8 481.4 L639.6 481.1 L640.4 480.7 L641.1 480.4 L641.9 480.0 L642.7 479.7 L643.4 479.4 L644.2 479.0 L645.0 478.7 L645.8 478.4 L646.5 478.1 L647.3 477.8 L648.1 477.5 L648.8 477.3 L649.6 477.0 L650.4 476.7 L651.2 476.5 L651.9 476.2 L652.7 476.0 L653.5 475.8 L654.2 475.5 L655.0 475.3 L655.8 475.1 L656.6 474.9 L657.3 474.7 L658.1 474.6 L658.9 474.4 L659.6 474.2 L660.4 474.1 L661.2 473.9 L661.9 473.8 L662.7 473.7 L663.5 473.6 L664.3 473.4 L665.0 473.3 L665.8 473.3 L666.6 473.2 L667.3 473.1 L668.1 473.0 L668.9 473.0 L669.7 472.9 L670.4 472.9 L671.2 472.9 L672.0 472.8 L672.7 472.8 L673.5 472.8" stroke="#ff8000" stroke-width="4.3" />
<path d="M118.5 144.4 L119.3 144.4 L120.0 144.4 L120.8 144.4 L121.6 144.3 L122.4 144.3 L123.1 144.3 L123.9 144.2 L124.7 144.2 L125.4 144.1 L126.2 144.1 L127.0 144.0 L127.8 144.0 L128.5 143.9 L129.3 143.8 L130.1 143.7 L130.8 143.6 L131.6 143.5 L132.4 143.4 L133.1 143.3 L133.9 143.2 L134.7 143.1 L135.5 143.0 L136.2 142.8 L137.0 142.7 L137.8 142.6 L138.5 142.4 L139.3 142.3 L140.1 142.1 L140.9 142.0 L141.6 141.8 L142.4 141.7 L143.2 141.5 L143.9 141.3 L144.7 141.1 L145.5 141.0 L146.3 140.8 L147.0 140.6 L147.8 140.4 L148.6 140.2 L149.3 140.0 L150.1 139.8 L150.9 139.6 L151.6 139.4 L152.4 139.2 L153.2 139.0 L154.0 138.8 L154.7 138.6 L155.5 138.4 L156.3 138.1 L157.0 137.9 L157.8 137.7 L158.6 137.5 L159.4 137.3 L160.1 137.0 L160.9 136.8 L161.7 136.6 L162.4 136.4 L163.2 136.1 L164.0 135.9 L164.8 135.7 L165.5 135.4 L166.3 135.2 L167.1 135.0 L167.8 134.8 L168.6 134.5 L169.4 134.3 L170.1 134.1 L170.9 133.8 L171.7 133.6 L172.5 133.4 L173.2 133.1 L174.0 132.9 L174.8 132.7 L175.5 132.5 L176.3 132.2 L177.1 132.0 L177.9 131.8 L178.6 131.6 L179.4 131.3 L180.2 131.1 L180.9 130.9 L181.7 130.7 L182.5 130.5 L183.3 130.3 L184.0 130.1 L184.8 129.8 L185.6 129.6 L186.3 129.4 L187.1 129.2 L187.9 129.0 L188.6 128.8 L189.4 128.6 L190.2 128.4 L191.0 128.2 L191.7 128.0 L192.5 127.8 L193.3 127.6 L194.0 127.5 L194.8 127.3 L195.6 127.1 L196.4 126.9 L197.1 126.7 L197.9 126.6 L198.7 126.4 L199.4 126.2 L200.2 126.0 L201.0 125.9 L201.8 125.7 L202.5 125.6 L203.3 125.4 L204.1 125.2 L204.8 125.1 L205.6 124.9 L206.4 124.8 L207.1 124.6 L207.9 124.5 L208.7 124.4 L209.5 124.2 L210.2 124.1 L211.0 124.0 L211.8 123.8 L212.5 123.7 L213.3 123.6 L214.1 123.5 L214.9 123.3 L215.6 123.2 L216.4 123.1 L217.2 123.0 L217.9 122.9 L218.7 122.8 L219.5 122.7 L220.3 122.6 L221.0 122.5 L221.8 122.4 L222.6 122.3 L223.3 122.3 L224.1 122.2 L224.9 122.1 L225.6 122.0 L226.4 122.0 L227.2 121.9 L228.0 121.8 L228.7 121.8 L229.5 121.7 L230.3 121.6 L231.0 121.6 L231.8 121.5 L232.6 121.5 L233.4 121.5 L234.1 121.4 L234.9 121.4 L235.7 121.4 L236.4 121.3 L237.2 121.3 L238.0 121.3 L238.8 121.3 L239.5 121.3 L240.3 121.3 L241.1 121.3 L241.8 121.3 L242.6 121.3 L243.4 121.3 L244.1 121.3 L244.9 121.3 L245.7 121.3 L246.5 121.3 L247.2 121.4 L248.0 121.4 L248.8 121.4 L249.5 121.5 L250.3 121.5 L251.1 121.6 L251.9 121.6 L252.6 121.7 L253.4 121.7 L254.2 121.8 L254.9 121.8 L255.7 121.9 L256.5 122.0 L257.3 122.1 L258.0 122.1 L258.8 122.2 L259.6 122.3 L260.3 122.4 L261.1 122.5 L261.9 122.6 L262.6 122.7 L263.4 122.8 L264.2 122.9 L265.0 123.0 L265.7 123.1 L266.5 123.3 L267.3 123.4 L268.0 123.5 L268.8 123.7 L269.6 123.8 L270.4 123.9 L271.1 124.1 L271.9 124.2 L272.7 124.4 L273.4 124.5 L274.2 124.7 L275.0 124.8 L275.8 125.0 L276.5 125.2 L277.3 125.3 L278.1 125.5 L278.8 125.7 L279.6 125.8 L280.4 126.0 L281.1 126.2 L281.9 126.4 L282.7 126.6 L283.5 126.8 L284.2 127.0 L285.0 127.2 L285.8 127.4 L286.5 127.6 L287.3 127.8 L288.1 128.0 L288.9 128.2 L289.6 128.4 L290.4 128.6 L291.2 128.8 L291.9 129.0 L292.7 129.3 L293.5 129.5 L294.3 129.7 L295.0 129.9 L295.8 130.1 L296.6 130.4 L297.3 130.6 L298.1 130.8 L298.9 131.1 L299.6 131.3 L300.4 131.5 L301.2 131.8 L302.0 132.0 L302.7 132.3 L303.5 132.5 L304.3 132.7 L305.0 133.0 L305.8 133.2 L306.6 133.5 L307.4 133.7 L308.1 134.0 L308.9 134.2 L309.7 134.5 L310.4 134.7 L311.2 135.0 L312.0 135.2 L312.8 135.5 L313.5 135.7 L314.3 136.0 L315.1 136.2 L315.8 136.5 L316.6 136.8 L317.4 137.0 L318.2 137.3 L318.9 137.5 L319.7 137.8 L320.5 138.0 L321.2 138.3 L322.0 138.6 L322.8 138.8 L323.5 139.1 L324.3 139.3 L325.1 139.6 L325.9 139.9 L326.6 140.1 L327.4 140.4 L328.2 140.6 L328.9 140.9 L329.7 141.2 L330.5 141.4 L331.3 141.7 L332.0 142.0 L332.8 142.2 L333.6 142.5 L334.3 142.7 L335.1 143.0 L335.9 143.2 L336.7 143.5 L337.4 143.8 L338.2 144.0 L339.0 144.3 L339.7 144.5 L340.5 144.8 L341.3 145.0 L342.0 145.3 L342.8 145.5 L343.6 145.8 L344.4 146.0 L345.1 146.3 L345.9 146.5 L346.7 146.8 L347.4 147.0 L348.2 147.3 L349.0 147.5 L349.8 147.7 L350.5 148.0 L351.3 148.2 L352.1 148.5 L352.8 148.7 L353.6 148.9 L354.4 149.1 L355.2 149.4 L355.9 149.6 L356.7 149.8 L357.5 150.0 L358.2 150.2 L359.0 150.5 L359.8 150.7 L360.5 150.9 L361.3 151.1 L362.1 151.3 L362.9 151.5 L363.6 151.7 L364.4 151.9 L365.2 152.1 L365.9 152.3 L366.7 152.4 L367.5 152.6 L368.3 152.8 L369.0 153.0 L369.8 153.1 L370.6 153.3 L371.3 153.5 L372.1 153.6 L372.9 153.8 L373.7 153.9 L374.4 154.1 L375.2 154.2 L376.0 154.3 L376.7 154.5 L377.5 154.6 L378.3 154.7 L379.0 154.8 L379.8 154.9 L380.6 155.1 L381.4 155.2 L382.1 155.3 L382.9 155.3 L383.7 155.4 L384.4 155.5 L385.2 155.6 L386.0 155.7 L386.8 155.7 L387.5 155.8 L388.3 155.9 L389.1 155.9 L389.8 155.9 L390.6 156.0 L391.4 156.0 L392.2 156.1 L392.9 156.1 L393.7 156.1 L394.5 156.1 L395.2 156.1 L396.0 156.1 L396.8 156.1 L397.5 156.1 L398.3 156.1 L399.1 156.1 L399.9 156.1 L400.6 156.0 L401.4 156.0 L402.2 155.9 L402.9 155.9 L403.7 155.9 L404.5 155.8 L405.3 155.7 L406.0 155.7 L406.8 155.6 L407.6 155.5 L408.3 155.4 L409.1 155.3 L409.9 155.3 L410.7 155.2 L411.4 155.1 L412.2 154.9 L413.0 154.8 L413.7 154.7 L414.5 154.6 L415.3 154.5 L416.0 154.3 L416.8 154.2 L417.6 154.1 L418.4 153.9 L419.1 153.8 L419.9 153.6 L420.7 153.5 L421.4 153.3 L422.2 153.1 L423.0 153.0 L423.8 152.8 L424.5 152.6 L425.3 152.4 L426.1 152.3 L426.8 152.1 L427.6 151.9 L428.4 151.7 L429.2 151.5 L429.9 151.3 L430.7 151.1 L431.5 150.9 L432.2 150.7 L433.0 150.5 L433.8 150.2 L434.5 150.0 L435.3 149.8 L436.1 149.6 L436.9 149.4 L437.6 149.1 L438.4 148.9 L439.2 148.7 L439.9 148.5 L440.7 148.2 L441.5 148.0 L442.3 147.7 L443.0 147.5 L443.8 147.3 L444.6 147.0 L445.3 146.8 L446.1 146.5 L446.9 146.3 L447.7 146.0 L448.4 145.8 L449.2 145.5 L450.0 145.3 L450.7 145.0 L451.5 144.8 L452.3 144.5 L453.0 144.3 L453.8 144.0 L454.6 143.8 L455.4 143.5 L456.1 143.2 L456.9 143.0 L457.7 142.7 L458.4 142.5 L459.2 142.2 L460.0 142.0 L460.8 141.7 L461.5 141.4 L462.3 141.2 L463.1 140.9 L463.8 140.6 L464.6 140.4 L465.4 140.1 L466.2 139.9 L466.9 139.6 L467.7 139.3 L468.5 139.1 L469.2 138.8 L470.0 138.6 L470.8 138.3 L471.5 138.0 L472.3 137.8 L473.1 137.5 L473.9 137.3 L474.6 137.0 L475.4 136.8 L476.2 136.5 L476.9 136.2 L477.7 136.0 L478.5 135.7 L479.3 135.5 L480.0 135.2 L480.8 135.0 L481.6 134.7 L482.3 134.5 L483.1 134.2 L483.9 134.0 L484.7 133.7 L485.4 133.5 L486.2 133.2 L487.0 133.0 L487.7 132.7 L488.5 132.5 L489.3 132.3 L490.0 132.0 L490.8 131.8 L491.6 131.5 L492.4 131.3 L493.1 131.1 L493.9 130.8 L494.7 130.6 L495.4 130.4 L496.2 130.1 L497.0 129.9 L497.8 129.7 L498.5 129.5 L499.3 129.3 L500.1 129.0 L500.8 128.8 L501.6 128.6 L502.4 128.4 L503.2 128.2 L503.9 128.0 L504.7 127.8 L505.5 127.6 L506.2 127.4 L507.0 127.2 L507.8 127.0 L508.6 126.8 L509.3 126.6 L510.1 126.4 L510.9 126.2 L511.6 126.0 L512.4 125.8 L513.2 125.7 L513.9 125.5 L514.7 125.3 L515.5 125.2 L516.3 125.0 L517.0 124.8 L517.8 124.7 L518.6 124.5 L519.3 124.4 L520.1 124.2 L520.9 124.1 L521.7 123.9 L522.4 123.8 L523.2 123.7 L524.0 123.5 L524.7 123.4 L525.5 123.3 L526.3 123.1 L527.1 123.0 L527.8 122.9 L528.6 122.8 L529.4 122.7 L530.1 122.6 L530.9 122.5 L531.7 122.4 L532.4 122.3 L533.2 122.2 L534.0 122.1 L534.8 122.1 L535.5 122.0 L536.3 121.9 L537.1 121.8 L537.8 121.8 L538.6 121.7 L539.4 121.7 L540.2 121.6 L540.9 121.6 L541.7 121.5 L542.5 121.5 L543.2 121.4 L544.0 121.4 L544.8 121.4 L545.6 121.3 L546.3 121.3 L547.1 121.3 L547.9 121.3 L548.6 121.3 L549.4 121.3 L550.2 121.3 L550.9 121.3 L551.7 121.3 L552.5 121.3 L553.3 121.3 L554.0 121.3 L554.8 121.3 L555.6 121.3 L556.3 121.4 L557.1 121.4 L557.9 121.4 L558.7 121.5 L559.4 121.5 L560.2 121.5 L561.0 121.6 L561.7 121.6 L562.5 121.7 L563.3 121.8 L564.1 121.8 L564.8 121.9 L565.6 122.0 L566.4 122.0 L567.1 122.1 L567.9 122.2 L568.7 122.3 L569.4 122.3 L570.2 122.4 L571.0 122.5 L571.8 122.6 L572.5 122.7 L573.3 122.8 L574.1 122.9 L574.8 123.0 L575.6 123.1 L576.4 123.2 L577.2 123.3 L577.9 123.5 L578.7 123.6 L579.5 123.7 L580.2 123.8 L581.0 124.0 L581.8 124.1 L582.6 124.2 L583.3 124.4 L584.1 124.5 L584.9 124.6 L585.6 124.8 L586.4 124.9 L587.2 125.1 L587.9 125.2 L588.7 125.4 L589.5 125.6 L590.3 125.7 L591.0 125.9 L591.8 126.0 L592.6 126.2 L593.3 126.4 L594.1 126.6 L594.9 126.7 L595.7 126.9 L596.4 127.1 L597.2 127.3 L598.0 127.5 L598.7 127.6 L599.5 127.8 L600.3 128.0 L601.1 128.2 L601.8 128.4 L602.6 128.6 L603.4 128.8 L604.1 129.0 L604.9 129.2 L605.7 129.4 L606.4 129.6 L607.2 129.8 L608.0 130.1 L608.8 130.3 L609.5 130.5 L610.3 130.7 L611.1 130.9 L611.8 131.1 L612.6 131.3 L613.4 131.6 L614.2 131.8 L614.9 132.0 L615.7 132.2 L616.5 132.5 L617.2 132.7 L618.0 132.9 L618.8 133.1 L619.6 133.4 L620.3 133.6 L621.1 133.8 L621.9 134.1 L622.6 134.3 L623.4 134.5 L624.2 134.8 L624.9 135.0 L625.7 135.2 L626.5 135.4 L627.3 135.7 L628.0 135.9 L628.8 136.1 L629.6 136.4 L630.3 136.6 L631.1 136.8 L631.9 137.0 L632.7 137.3 L633.4 137.5 L634.2 137.7 L635.0 137.9 L635.7 138.1 L636.5 138.4 L637.3 138.6 L638.1 138.8 L638.8 139.0 L639.6 139.2 L640.4 139.4 L641.1 139.6 L641.9 139.8 L642.7 140.0 L643.4 140.2 L644.2 140.4 L645.0 140.6 L645.8 140.8 L646.5 141.0 L647.3 141.1 L648.1 141.3 L648.8 141.5 L649.6 141.7 L650.4 141.8 L651.2 142.0 L651.9 142.1 L652.7 142.3 L653.5 142.4 L654.2 142.6 L655.0 142.7 L655.8 142.8 L656.6 143.0 L657.3 143.1 L658.1 143.2 L658.9 143.3 L659.6 143.4 L660.4 143.5 L661.2 143.6 L661.9 143.7 L662.7 143.8 L663.5 143.9 L664.3 144.0 L665.0 144.0 L665.8 144.1 L666.6 144.1 L667.3 144.2 L668.1 144.2 L668.9 144.3 L669.7 144.3 L670.4 144.3 L671.2 144.4 L672.0 144.4 L672.7 144.4 L673.5 144.4" stroke="#ff8000" stroke-width="3.3" stroke-dasharray="7.65 7.68" />
<path d="M118.5 511.9 L119.3 511.9 L120.0 511.9 L120.8 511.9 L121.6 512.0 L122.4 512.0 L123.1 512.0 L123.9 512.0 L124.7 512.0 L125.4 512.0 L126.2 512.0 L127.0 512.1 L127.8 512.1 L128.5 512.1 L129.3 512.2 L130.1 512.2 L130.8 512.2 L131.6 512.3 L132.4 512.3 L133.1 512.4 L133.9 512.4 L134.7 512.4 L135.5 512.5 L136.2 512.6 L137.0 512.6 L137.8 512.7 L138.5 512.7 L139.3 512.8 L140.1 512.9 L140.9 512.9 L141.6 513.0 L142.4 513.1 L143.2 513.2 L143.9 513.2 L144.7 513.3 L145.5 513.4 L146.3 513.5 L147.0 513.6 L147.8 513.7 L148.6 513.8 L149.3 513.9 L150.1 514.0 L150.9 514.1 L151.6 514.2 L152.4 514.3 L153.2 514.4 L154.0 514.5 L154.7 514.6 L155.5 514.8 L156.3 514.9 L157.0 515.0 L157.8 515.1 L158.6 515.3 L159.4 515.4 L160.1 515.5 L160.9 515.7 L161.7 515.8 L162.4 516.0 L163.2 516.1 L164.0 516.3 L164.8 516.4 L165.5 516.6 L166.3 516.7 L167.1 516.9 L167.8 517.0 L168.6 517.2 L169.4 517.4 L170.1 517.5 L170.9 517.7 L171.7 517.9 L172.5 518.0 L173.2 518.2 L174.0 518.4 L174.8 518.5 L175.5 518.7 L176.3 518.9 L177.1 519.1 L177.9 519.3 L178.6 519.4 L179.4 519.6 L180.2 519.8 L180.9 520.0 L181.7 520.2 L182.5 520.3 L183.3 520.5 L184.0 520.7 L184.8 520.9 L185.6 521.1 L186.3 521.3 L187.1 521.5 L187.9 521.6 L188.6 521.8 L189.4 522.0 L190.2 522.2 L191.0 522.4 L191.7 522.6 L192.5 522.7 L193.3 522.9 L194.0 523.1 L194.8 523.3 L195.6 523.4 L196.4 523.6 L197.1 523.8 L197.9 524.0 L198.7 524.1 L199.4 524.3 L200.2 524.5 L201.0 524.7 L201.8 524.8 L202.5 525.0 L203.3 525.1 L204.1 525.3 L204.8 525.5 L205.6 525.6 L206.4 525.8 L207.1 525.9 L207.9 526.1 L208.7 526.2 L209.5 526.4 L210.2 526.5 L211.0 526.7 L211.8 526.8 L212.5 526.9 L213.3 527.1 L214.1 527.2 L214.9 527.3 L215.6 527.5 L216.4 527.6 L217.2 527.7 L217.9 527.8 L218.7 528.0 L219.5 528.1 L220.3 528.2 L221.0 528.3 L221.8 528.4 L222.6 528.5 L223.3 528.6 L224.1 528.7 L224.9 528.8 L225.6 528.9 L226.4 529.0 L227.2 529.1 L228.0 529.2 L228.7 529.3 L229.5 529.3 L230.3 529.4 L231.0 529.5 L231.8 529.6 L232.6 529.6 L233.4 529.7 L234.1 529.8 L234.9 529.9 L235.7 529.9 L236.4 530.0 L237.2 530.0 L238.0 530.1 L238.8 530.2 L239.5 530.2 L240.3 530.3 L241.1 530.3 L241.8 530.4 L242.6 530.4 L243.4 530.5 L244.1 530.5 L244.9 530.5 L245.7 530.6 L246.5 530.6 L247.2 530.6 L248.0 530.7 L248.8 530.7 L249.5 530.7 L250.3 530.8 L251.1 530.8 L251.9 530.8 L252.6 530.8 L253.4 530.9 L254.2 530.9 L254.9 530.9 L255.7 530.9 L256.5 530.9 L257.3 530.9 L258.0 530.9 L258.8 530.9 L259.6 530.9 L260.3 530.9 L261.1 530.9 L261.9 530.9 L262.6 530.9 L263.4 530.9 L264.2 530.9 L265.0 530.9 L265.7 530.9 L266.5 530.8 L267.3 530.8 L268.0 530.8 L268.8 530.8 L269.6 530.7 L270.4 530.7 L271.1 530.7 L271.9 530.6 L272.7 530.6 L273.4 530.6 L274.2 530.5 L275.0 530.5 L275.8 530.4 L276.5 530.4 L277.3 530.3 L278.1 530.2 L278.8 530.2 L279.6 530.1 L280.4 530.0 L281.1 530.0 L281.9 529.9 L282.7 529.8 L283.5 529.7 L284.2 529.6 L285.0 529.6 L285.8 529.5 L286.5 529.4 L287.3 529.3 L288.1 529.2 L288.9 529.1 L289.6 529.0 L290.4 528.9 L291.2 528.8 L291.9 528.6 L292.7 528.5 L293.5 528.4 L294.3 528.3 L295.0 528.2 L295.8 528.1 L296.6 528.0 L297.3 527.9 L298.1 527.8 L298.9 527.7 L299.6 527.6 L300.4 527.4 L301.2 527.3 L302.0 527.2 L302.7 527.1 L303.5 526.9 L304.3 526.8 L305.0 526.6 L305.8 526.5 L306.6 526.3 L307.4 526.2 L308.1 526.0 L308.9 525.9 L309.7 525.7 L310.4 525.5 L311.2 525.3 L312.0 525.1 L312.8 524.9 L313.5 524.8 L314.3 524.6 L315.1 524.4 L315.8 524.2 L316.6 524.0 L317.4 523.8 L318.2 523.6 L318.9 523.4 L319.7 523.2 L320.5 523.0 L321.2 522.8 L322.0 522.6 L322.8 522.4 L323.5 522.1 L324.3 521.9 L325.1 521.7 L325.9 521.5 L326.6 521.3 L327.4 521.1 L328.2 520.9 L328.9 520.7 L329.7 520.5 L330.5 520.3 L331.3 520.1 L332.0 519.9 L332.8 519.7 L333.6 519.5 L334.3 519.3 L335.1 519.1 L335.9 518.9 L336.7 518.7 L337.4 518.5 L338.2 518.3 L339.0 518.1 L339.7 517.9 L340.5 517.7 L341.3 517.5 L342.0 517.3 L342.8 517.2 L343.6 517.0 L344.4 516.8 L345.1 516.6 L345.9 516.4 L346.7 516.3 L347.4 516.1 L348.2 515.9 L349.0 515.8 L349.8 515.6 L350.5 515.4 L351.3 515.3 L352.1 515.1 L352.8 515.0 L353.6 514.8 L354.4 514.7 L355.2 514.5 L355.9 514.4 L356.7 514.2 L357.5 514.1 L358.2 514.0 L359.0 513.8 L359.8 513.7 L360.5 513.6 L361.3 513.5 L362.1 513.3 L362.9 513.2 L363.6 513.1 L364.4 513.0 L365.2 512.9 L365.9 512.8 L366.7 512.7 L367.5 512.6 L368.3 512.5 L369.0 512.4 L369.8 512.3 L370.6 512.2 L371.3 512.1 L372.1 512.0 L372.9 512.0 L373.7 511.9 L374.4 511.8 L375.2 511.7 L376.0 511.6 L376.7 511.5 L377.5 511.4 L378.3 511.4 L379.0 511.3 L379.8 511.2 L380.6 511.1 L381.4 511.1 L382.1 511.0 L382.9 510.9 L383.7 510.9 L384.4 510.8 L385.2 510.8 L386.0 510.7 L386.8 510.7 L387.5 510.6 L388.3 510.6 L389.1 510.5 L389.8 510.5 L390.6 510.5 L391.4 510.5 L392.2 510.5 L392.9 510.4 L393.7 510.4 L394.5 510.4 L395.2 510.4 L396.0 510.4 L396.8 510.4 L397.5 510.4 L398.3 510.4 L399.1 510.4 L399.9 510.5 L400.6 510.5 L401.4 510.5 L402.2 510.5 L402.9 510.5 L403.7 510.6 L404.5 510.6 L405.3 510.7 L406.0 510.7 L406.8 510.8 L407.6 510.8 L408.3 510.9 L409.1 510.9 L409.9 511.0 L410.7 511.1 L411.4 511.1 L412.2 511.2 L413.0 511.3 L413.7 511.4 L414.5 511.4 L415.3 511.5 L416.0 511.6 L416.8 511.7 L417.6 511.8 L418.4 511.9 L419.1 512.0 L419.9 512.0 L420.7 512.1 L421.4 512.2 L422.2 512.3 L423.0 512.4 L423.8 512.5 L424.5 512.6 L425.3 512.7 L426.1 512.8 L426.8 512.9 L427.6 513.0 L428.4 513.1 L429.2 513.2 L429.9 513.3 L430.7 513.5 L431.5 513.6 L432.2 513.7 L433.0 513.8 L433.8 514.0 L434.5 514.1 L435.3 514.2 L436.1 514.4 L436.9 514.5 L437.6 514.7 L438.4 514.8 L439.2 515.0 L439.9 515.1 L440.7 515.3 L441.5 515.4 L442.3 515.6 L443.0 515.8 L443.8 515.9 L444.6 516.1 L445.3 516.3 L446.1 516.4 L446.9 516.6 L447.7 516.8 L448.4 517.0 L449.2 517.2 L450.0 517.3 L450.7 517.5 L451.5 517.7 L452.3 517.9 L453.0 518.1 L453.8 518.3 L454.6 518.5 L455.4 518.7 L456.1 518.9 L456.9 519.1 L457.7 519.3 L458.4 519.5 L459.2 519.7 L460.0 519.9 L460.8 520.1 L461.5 520.3 L462.3 520.5 L463.1 520.7 L463.8 520.9 L464.6 521.1 L465.4 521.3 L466.2 521.5 L466.9 521.7 L467.7 521.9 L468.5 522.1 L469.2 522.4 L470.0 522.6 L470.8 522.8 L471.5 523.0 L472.3 523.2 L473.1 523.4 L473.9 523.6 L474.6 523.8 L475.4 524.0 L476.2 524.2 L476.9 524.4 L477.7 524.6 L478.5 524.8 L479.3 524.9 L480.0 525.1 L480.8 525.3 L481.6 525.5 L482.3 525.7 L483.1 525.9 L483.9 526.0 L484.7 526.2 L485.4 526.3 L486.2 526.5 L487.0 526.6 L487.7 526.8 L488.5 526.9 L489.3 527.1 L490.0 527.2 L490.8 527.3 L491.6 527.4 L492.4 527.6 L493.1 527.7 L493.9 527.8 L494.7 527.9 L495.4 528.0 L496.2 528.1 L497.0 528.2 L497.8 528.3 L498.5 528.4 L499.3 528.5 L500.1 528.6 L500.8 528.8 L501.6 528.9 L502.4 529.0 L503.2 529.1 L503.9 529.2 L504.7 529.3 L505.5 529.4 L506.2 529.5 L507.0 529.6 L507.8 529.6 L508.6 529.7 L509.3 529.8 L510.1 529.9 L510.9 530.0 L511.6 530.0 L512.4 530.1 L513.2 530.2 L513.9 530.2 L514.7 530.3 L515.5 530.4 L516.3 530.4 L517.0 530.5 L517.8 530.5 L518.6 530.6 L519.3 530.6 L520.1 530.6 L520.9 530.7 L521.7 530.7 L522.4 530.7 L523.2 530.8 L524.0 530.8 L524.7 530.8 L525.5 530.8 L526.3 530.9 L527.1 530.9 L527.8 530.9 L528.6 530.9 L529.4 530.9 L530.1 530.9 L530.9 530.9 L531.7 530.9 L532.4 530.9 L533.2 530.9 L534.0 530.9 L534.8 530.9 L535.5 530.9 L536.3 530.9 L537.1 530.9 L537.8 530.9 L538.6 530.9 L539.4 530.8 L540.2 530.8 L540.9 530.8 L541.7 530.8 L542.5 530.7 L543.2 530.7 L544.0 530.7 L544.8 530.6 L545.6 530.6 L546.3 530.6 L547.1 530.5 L547.9 530.5 L548.6 530.5 L549.4 530.4 L550.2 530.4 L550.9 530.3 L551.7 530.3 L552.5 530.2 L553.3 530.2 L554.0 530.1 L554.8 530.0 L555.6 530.0 L556.3 529.9 L557.1 529.9 L557.9 529.8 L558.7 529.7 L559.4 529.6 L560.2 529.6 L561.0 529.5 L561.7 529.4 L562.5 529.3 L563.3 529.3 L564.1 529.2 L564.8 529.1 L565.6 529.0 L566.4 528.9 L567.1 528.8 L567.9 528.7 L568.7 528.6 L569.4 528.5 L570.2 528.4 L571.0 528.3 L571.8 528.2 L572.5 528.1 L573.3 528.0 L574.1 527.8 L574.8 527.7 L575.6 527.6 L576.4 527.5 L577.2 527.3 L577.9 527.2 L578.7 527.1 L579.5 526.9 L580.2 526.8 L581.0 526.7 L581.8 526.5 L582.6 526.4 L583.3 526.2 L584.1 526.1 L584.9 525.9 L585.6 525.8 L586.4 525.6 L587.2 525.5 L587.9 525.3 L588.7 525.1 L589.5 525.0 L590.3 524.8 L591.0 524.7 L591.8 524.5 L592.6 524.3 L593.3 524.1 L594.1 524.0 L594.9 523.8 L595.7 523.6 L596.4 523.4 L597.2 523.3 L598.0 523.1 L598.7 522.9 L599.5 522.7 L600.3 522.6 L601.1 522.4 L601.8 522.2 L602.6 522.0 L603.4 521.8 L604.1 521.6 L604.9 521.5 L605.7 521.3 L606.4 521.1 L607.2 520.9 L608.0 520.7 L608.8 520.5 L609.5 520.3 L610.3 520.2 L611.1 520.0 L611.8 519.8 L612.6 519.6 L613.4 519.4 L614.2 519.3 L614.9 519.1 L615.7 518.9 L616.5 518.7 L617.2 518.5 L618.0 518.4 L618.8 518.2 L619.6 518.0 L620.3 517.9 L621.1 517.7 L621.9 517.5 L622.6 517.4 L623.4 517.2 L624.2 517.0 L624.9 516.9 L625.7 516.7 L626.5 516.6 L627.3 516.4 L628.0 516.3 L628.8 516.1 L629.6 516.0 L630.3 515.8 L631.1 515.7 L631.9 515.5 L632.7 515.4 L633.4 515.3 L634.2 515.1 L635.0 515.0 L635.7 514.9 L636.5 514.8 L637.3 514.6 L638.1 514.5 L638.8 514.4 L639.6 514.3 L640.4 514.2 L641.1 514.1 L641.9 514.0 L642.7 513.9 L643.4 513.8 L644.2 513.7 L645.0 513.6 L645.8 513.5 L646.5 513.4 L647.3 513.3 L648.1 513.2 L648.8 513.2 L649.6 513.1 L650.4 513.0 L651.2 512.9 L651.9 512.9 L652.7 512.8 L653.5 512.7 L654.2 512.7 L655.0 512.6 L655.8 512.6 L656.6 512.5 L657.3 512.4 L658.1 512.4 L658.9 512.4 L659.6 512.3 L660.4 512.3 L661.2 512.2 L661.9 512.2 L662.7 512.2 L663.5 512.1 L664.3 512.1 L665.0 512.1 L665.8 512.0 L666.6 512.0 L667.3 512.0 L668.1 512.0 L668.9 512.0 L669.7 512.0 L670.4 512.0 L671.2 511.9 L672.0 511.9 L672.7 511.9 L673.5 511.9" stroke="#009966" stroke-width="4.3" />
<path d="M118.5 147.3 L119.3 147.3 L120.0 147.3 L120.8 147.3 L121.6 147.3 L122.4 147.3 L123.1 147.3 L123.9 147.3 L124.7 147.3 L125.4 147.3 L126.2 147.3 L127.0 147.2 L127.8 147.2 L128.5 147.2 L129.3 147.2 L130.1 147.2 L130.8 147.1 L131.6 147.1 L132.4 147.1 L133.1 147.1 L133.9 147.0 L134.7 147.0 L135.5 147.0 L136.2 146.9 L137.0 146.9 L137.8 146.9 L138.5 146.8 L139.3 146.8 L140.1 146.8 L140.9 146.7 L141.6 146.7 L142.4 146.6 L143.2 146.6 L143.9 146.6 L144.7 146.5 L145.5 146.5 L146.3 146.4 L147.0 146.4 L147.8 146.3 L148.6 146.3 L149.3 146.2 L150.1 146.2 L150.9 146.1 L151.6 146.1 L152.4 146.0 L153.2 145.9 L154.0 145.9 L154.7 145.8 L155.5 145.8 L156.3 145.7 L157.0 145.6 L157.8 145.6 L158.6 145.5 L159.4 145.5 L160.1 145.4 L160.9 145.3 L161.7 145.3 L162.4 145.2 L163.2 145.1 L164.0 145.1 L164.8 145.0 L165.5 144.9 L166.3 144.9 L167.1 144.8 L167.8 144.7 L168.6 144.7 L169.4 144.6 L170.1 144.5 L170.9 144.5 L171.7 144.4 L172.5 144.3 L173.2 144.3 L174.0 144.2 L174.8 144.1 L175.5 144.0 L176.3 144.0 L177.1 143.9 L177.9 143.8 L178.6 143.8 L179.4 143.7 L180.2 143.6 L180.9 143.6 L181.7 143.5 L182.5 143.4 L183.3 143.4 L184.0 143.3 L184.8 143.2 L185.6 143.2 L186.3 143.1 L187.1 143.1 L187.9 143.0 L188.6 142.9 L189.4 142.9 L190.2 142.8 L191.0 142.8 L191.7 142.7 L192.5 142.6 L193.3 142.6 L194.0 142.5 L194.8 142.5 L195.6 142.4 L196.4 142.4 L197.1 142.3 L197.9 142.3 L198.7 142.2 L199.4 142.2 L200.2 142.1 L201.0 142.1 L201.8 142.0 L202.5 142.0 L203.3 142.0 L204.1 141.9 L204.8 141.9 L205.6 141.8 L206.4 141.8 L207.1 141.8 L207.9 141.7 L208.7 141.7 L209.5 141.7 L210.2 141.6 L211.0 141.6 L211.8 141.6 L212.5 141.6 L213.3 141.5 L214.1 141.5 L214.9 141.5 L215.6 141.5 L216.4 141.5 L217.2 141.5 L217.9 141.4 L218.7 141.4 L219.5 141.4 L220.3 141.4 L221.0 141.4 L221.8 141.4 L222.6 141.4 L223.3 141.4 L224.1 141.4 L224.9 141.4 L225.6 141.4 L226.4 141.4 L227.2 141.4 L228.0 141.4 L228.7 141.4 L229.5 141.4 L230.3 141.5 L231.0 141.5 L231.8 141.5 L232.6 141.5 L233.4 141.5 L234.1 141.6 L234.9 141.6 L235.7 141.6 L236.4 141.6 L237.2 141.7 L238.0 141.7 L238.8 141.7 L239.5 141.8 L240.3 141.8 L241.1 141.8 L241.8 141.9 L242.6 141.9 L243.4 142.0 L244.1 142.0 L244.9 142.1 L245.7 142.1 L246.5 142.2 L247.2 142.2 L248.0 142.3 L248.8 142.3 L249.5 142.4 L250.3 142.4 L251.1 142.5 L251.9 142.6 L252.6 142.6 L253.4 142.7 L254.2 142.8 L254.9 142.8 L255.7 142.9 L256.5 143.0 L257.3 143.1 L258.0 143.1 L258.8 143.2 L259.6 143.3 L260.3 143.4 L261.1 143.4 L261.9 143.5 L262.6 143.6 L263.4 143.7 L264.2 143.8 L265.0 143.9 L265.7 144.0 L266.5 144.1 L267.3 144.2 L268.0 144.3 L268.8 144.3 L269.6 144.4 L270.4 144.5 L271.1 144.6 L271.9 144.8 L272.7 144.9 L273.4 145.0 L274.2 145.1 L275.0 145.2 L275.8 145.3 L276.5 145.4 L277.3 145.5 L278.1 145.6 L278.8 145.7 L279.6 145.9 L280.4 146.0 L281.1 146.1 L281.9 146.2 L282.7 146.3 L283.5 146.5 L284.2 146.6 L285.0 146.7 L285.8 146.8 L286.5 147.0 L287.3 147.1 L288.1 147.2 L288.9 147.4 L289.6 147.5 L290.4 147.6 L291.2 147.8 L291.9 147.9 L292.7 148.0 L293.5 148.2 L294.3 148.3 L295.0 148.4 L295.8 148.6 L296.6 148.7 L297.3 148.9 L298.1 149.0 L298.9 149.2 L299.6 149.3 L300.4 149.4 L301.2 149.6 L302.0 149.7 L302.7 149.9 L303.5 150.0 L304.3 150.2 L305.0 150.3 L305.8 150.5 L306.6 150.6 L307.4 150.8 L308.1 151.0 L308.9 151.1 L309.7 151.3 L310.4 151.4 L311.2 151.6 L312.0 151.7 L312.8 151.9 L313.5 152.0 L314.3 152.2 L315.1 152.4 L315.8 152.5 L316.6 152.7 L317.4 152.8 L318.2 153.0 L318.9 153.2 L319.7 153.3 L320.5 153.5 L321.2 153.6 L322.0 153.8 L322.8 154.0 L323.5 154.1 L324.3 154.3 L325.1 154.4 L325.9 154.6 L326.6 154.7 L327.4 154.9 L328.2 155.1 L328.9 155.2 L329.7 155.4 L330.5 155.5 L331.3 155.7 L332.0 155.8 L332.8 156.0 L333.6 156.2 L334.3 156.3 L335.1 156.5 L335.9 156.6 L336.7 156.8 L337.4 156.9 L338.2 157.1 L339.0 157.2 L339.7 157.4 L340.5 157.5 L341.3 157.7 L342.0 157.8 L342.8 158.0 L343.6 158.1 L344.4 158.2 L345.1 158.4 L345.9 158.5 L346.7 158.7 L347.4 158.8 L348.2 158.9 L349.0 159.1 L349.8 159.2 L350.5 159.3 L351.3 159.5 L352.1 159.6 L352.8 159.7 L353.6 159.8 L354.4 160.0 L355.2 160.1 L355.9 160.2 L356.7 160.3 L357.5 160.5 L358.2 160.6 L359.0 160.7 L359.8 160.8 L360.5 160.9 L361.3 161.0 L362.1 161.1 L362.9 161.2 L363.6 161.3 L364.4 161.4 L365.2 161.5 L365.9 161.6 L366.7 161.7 L367.5 161.8 L368.3 161.9 L369.0 162.0 L369.8 162.1 L370.6 162.2 L371.3 162.2 L372.1 162.3 L372.9 162.4 L373.7 162.5 L374.4 162.5 L375.2 162.6 L376.0 162.7 L376.7 162.7 L377.5 162.8 L378.3 162.9 L379.0 162.9 L379.8 163.0 L380.6 163.0 L381.4 163.1 L382.1 163.1 L382.9 163.2 L383.7 163.2 L384.4 163.3 L385.2 163.3 L386.0 163.3 L386.8 163.4 L387.5 163.4 L388.3 163.4 L389.1 163.4 L389.8 163.5 L390.6 163.5 L391.4 163.5 L392.2 163.5 L392.9 163.5 L393.7 163.5 L394.5 163.5 L395.2 163.5 L396.0 163.5 L396.8 163.5 L397.5 163.5 L398.3 163.5 L399.1 163.5 L399.9 163.5 L400.6 163.5 L401.4 163.5 L402.2 163.5 L402.9 163.4 L403.7 163.4 L404.5 163.4 L405.3 163.4 L406.0 163.3 L406.8 163.3 L407.6 163.3 L408.3 163.2 L409.1 163.2 L409.9 163.1 L410.7 163.1 L411.4 163.0 L412.2 163.0 L413.0 162.9 L413.7 162.9 L414.5 162.8 L415.3 162.7 L416.0 162.7 L416.8 162.6 L417.6 162.5 L418.4 162.5 L419.1 162.4 L419.9 162.3 L420.7 162.2 L421.4 162.2 L422.2 162.1 L423.0 162.0 L423.8 161.9 L424.5 161.8 L425.3 161.7 L426.1 161.6 L426.8 161.5 L427.6 161.4 L428.4 161.3 L429.2 161.2 L429.9 161.1 L430.7 161.0 L431.5 160.9 L432.2 160.8 L433.0 160.7 L433.8 160.6 L434.5 160.5 L435.3 160.3 L436.1 160.2 L436.9 160.1 L437.6 160.0 L438.4 159.8 L439.2 159.7 L439.9 159.6 L440.7 159.5 L441.5 159.3 L442.3 159.2 L443.0 159.1 L443.8 158.9 L444.6 158.8 L445.3 158.7 L446.1 158.5 L446.9 158.4 L447.7 158.2 L448.4 158.1 L449.2 158.0 L450.0 157.8 L450.7 157.7 L451.5 157.5 L452.3 157.4 L453.0 157.2 L453.8 157.1 L454.6 156.9 L455.4 156.8 L456.1 156.6 L456.9 156.5 L457.7 156.3 L458.4 156.2 L459.2 156.0 L460.0 155.8 L460.8 155.7 L461.5 155.5 L462.3 155.4 L463.1 155.2 L463.8 155.1 L464.6 154.9 L465.4 154.7 L466.2 154.6 L466.9 154.4 L467.7 154.3 L468.5 154.1 L469.2 154.0 L470.0 153.8 L470.8 153.6 L471.5 153.5 L472.3 153.3 L473.1 153.2 L473.9 153.0 L474.6 152.8 L475.4 152.7 L476.2 152.5 L476.9 152.4 L477.7 152.2 L478.5 152.0 L479.3 151.9 L480.0 151.7 L480.8 151.6 L481.6 151.4 L482.3 151.3 L483.1 151.1 L483.9 151.0 L484.7 150.8 L485.4 150.6 L486.2 150.5 L487.0 150.3 L487.7 150.2 L488.5 150.0 L489.3 149.9 L490.0 149.7 L490.8 149.6 L491.6 149.4 L492.4 149.3 L493.1 149.2 L493.9 149.0 L494.7 148.9 L495.4 148.7 L496.2 148.6 L497.0 148.4 L497.8 148.3 L498.5 148.2 L499.3 148.0 L500.1 147.9 L500.8 147.8 L501.6 147.6 L502.4 147.5 L503.2 147.4 L503.9 147.2 L504.7 147.1 L505.5 147.0 L506.2 146.8 L507.0 146.7 L507.8 146.6 L508.6 146.5 L509.3 146.3 L510.1 146.2 L510.9 146.1 L511.6 146.0 L512.4 145.9 L513.2 145.7 L513.9 145.6 L514.7 145.5 L515.5 145.4 L516.3 145.3 L517.0 145.2 L517.8 145.1 L518.6 145.0 L519.3 144.9 L520.1 144.8 L520.9 144.6 L521.7 144.5 L522.4 144.4 L523.2 144.3 L524.0 144.3 L524.7 144.2 L525.5 144.1 L526.3 144.0 L527.1 143.9 L527.8 143.8 L528.6 143.7 L529.4 143.6 L530.1 143.5 L530.9 143.4 L531.7 143.4 L532.4 143.3 L533.2 143.2 L534.0 143.1 L534.8 143.1 L535.5 143.0 L536.3 142.9 L537.1 142.8 L537.8 142.8 L538.6 142.7 L539.4 142.6 L540.2 142.6 L540.9 142.5 L541.7 142.4 L542.5 142.4 L543.2 142.3 L544.0 142.3 L544.8 142.2 L545.6 142.2 L546.3 142.1 L547.1 142.1 L547.9 142.0 L548.6 142.0 L549.4 141.9 L550.2 141.9 L550.9 141.8 L551.7 141.8 L552.5 141.8 L553.3 141.7 L554.0 141.7 L554.8 141.7 L555.6 141.6 L556.3 141.6 L557.1 141.6 L557.9 141.6 L558.7 141.5 L559.4 141.5 L560.2 141.5 L561.0 141.5 L561.7 141.5 L562.5 141.4 L563.3 141.4 L564.1 141.4 L564.8 141.4 L565.6 141.4 L566.4 141.4 L567.1 141.4 L567.9 141.4 L568.7 141.4 L569.4 141.4 L570.2 141.4 L571.0 141.4 L571.8 141.4 L572.5 141.4 L573.3 141.4 L574.1 141.4 L574.8 141.5 L575.6 141.5 L576.4 141.5 L577.2 141.5 L577.9 141.5 L578.7 141.5 L579.5 141.6 L580.2 141.6 L581.0 141.6 L581.8 141.6 L582.6 141.7 L583.3 141.7 L584.1 141.7 L584.9 141.8 L585.6 141.8 L586.4 141.8 L587.2 141.9 L587.9 141.9 L588.7 142.0 L589.5 142.0 L590.3 142.0 L591.0 142.1 L591.8 142.1 L592.6 142.2 L593.3 142.2 L594.1 142.3 L594.9 142.3 L595.7 142.4 L596.4 142.4 L597.2 142.5 L598.0 142.5 L598.7 142.6 L599.5 142.6 L600.3 142.7 L601.1 142.8 L601.8 142.8 L602.6 142.9 L603.4 142.9 L604.1 143.0 L604.9 143.1 L605.7 143.1 L606.4 143.2 L607.2 143.2 L608.0 143.3 L608.8 143.4 L609.5 143.4 L610.3 143.5 L611.1 143.6 L611.8 143.6 L612.6 143.7 L613.4 143.8 L614.2 143.8 L614.9 143.9 L615.7 144.0 L616.5 144.0 L617.2 144.1 L618.0 144.2 L618.8 144.3 L619.6 144.3 L620.3 144.4 L621.1 144.5 L621.9 144.5 L622.6 144.6 L623.4 144.7 L624.2 144.7 L624.9 144.8 L625.7 144.9 L626.5 144.9 L627.3 145.0 L628.0 145.1 L628.8 145.1 L629.6 145.2 L630.3 145.3 L631.1 145.3 L631.9 145.4 L632.7 145.5 L633.4 145.5 L634.2 145.6 L635.0 145.6 L635.7 145.7 L636.5 145.8 L637.3 145.8 L638.1 145.9 L638.8 145.9 L639.6 146.0 L640.4 146.1 L641.1 146.1 L641.9 146.2 L642.7 146.2 L643.4 146.3 L644.2 146.3 L645.0 146.4 L645.8 146.4 L646.5 146.5 L647.3 146.5 L648.1 146.6 L648.8 146.6 L649.6 146.6 L650.4 146.7 L651.2 146.7 L651.9 146.8 L652.7 146.8 L653.5 146.8 L654.2 146.9 L655.0 146.9 L655.8 146.9 L656.6 147.0 L657.3 147.0 L658.1 147.0 L658.9 147.1 L659.6 147.1 L660.4 147.1 L661.2 147.1 L661.9 147.2 L662.7 147.2 L663.5 147.2 L664.3 147.2 L665.0 147.2 L665.8 147.3 L666.6 147.3 L667.3 147.3 L668.1 147.3 L668.9 147.3 L669.7 147.3 L670.4 147.3 L671.2 147.3 L672.0 147.3 L672.7 147.3 L673.5 147.3" stroke="#009966" stroke-width="3.3" stroke-dasharray="7.65 7.68" />
<path d="M118.5 530.2 L119.3 530.2 L120.0 530.2 L120.8 530.2 L121.6 530.2 L122.4 530.2 L123.1 530.2 L123.9 530.2 L124.7 530.2 L125.4 530.2 L126.2 530.3 L127.0 530.3 L127.8 530.3 L128.5 530.3 L129.3 530.3 L130.1 530.3 L130.8 530.3 L131.6 530.3 L132.4 530.3 L133.1 530.4 L133.9 530.4 L134.7 530.4 L135.5 530.4 L136.2 530.4 L137.0 530.5 L137.8 530.5 L138.5 530.5 L139.3 530.5 L140.1 530.5 L140.9 530.6 L141.6 530.6 L142.4 530.6 L143.2 530.7 L143.9 530.7 L144.7 530.7 L145.5 530.7 L146.3 530.8 L147.0 530.8 L147.8 530.8 L148.6 530.9 L149.3 530.9 L150.1 530.9 L150.9 531.0 L151.6 531.0 L152.4 531.1 L153.2 531.1 L154.0 531.1 L154.7 531.2 L155.5 531.2 L156.3 531.3 L157.0 531.3 L157.8 531.4 L158.6 531.4 L159.4 531.4 L160.1 531.5 L160.9 531.5 L161.7 531.6 L162.4 531.6 L163.2 531.7 L164.0 531.7 L164.8 531.8 L165.5 531.8 L166.3 531.9 L167.1 531.9 L167.8 532.0 L168.6 532.1 L169.4 532.1 L170.1 532.2 L170.9 532.2 L171.7 532.3 L172.5 532.3 L173.2 532.4 L174.0 532.5 L174.8 532.5 L175.5 532.6 L176.3 532.6 L177.1 532.7 L177.9 532.7 L178.6 532.8 L179.4 532.9 L180.2 532.9 L180.9 533.0 L181.7 533.0 L182.5 533.1 L183.3 533.2 L184.0 533.2 L184.8 533.3 L185.6 533.3 L186.3 533.4 L187.1 533.4 L187.9 533.5 L188.6 533.6 L189.4 533.6 L190.2 533.7 L191.0 533.7 L191.7 533.8 L192.5 533.8 L193.3 533.9 L194.0 533.9 L194.8 534.0 L195.6 534.0 L196.4 534.1 L197.1 534.1 L197.9 534.2 L198.7 534.2 L199.4 534.3 L200.2 534.3 L201.0 534.4 L201.8 534.4 L202.5 534.5 L203.3 534.5 L204.1 534.6 L204.8 534.6 L205.6 534.6 L206.4 534.7 L207.1 534.7 L207.9 534.7 L208.7 534.8 L209.5 534.8 L210.2 534.8 L211.0 534.9 L211.8 534.9 L212.5 534.9 L213.3 535.0 L214.1 535.0 L214.9 535.0 L215.6 535.0 L216.4 535.0 L217.2 535.1 L217.9 535.1 L218.7 535.1 L219.5 535.1 L220.3 535.1 L221.0 535.1 L221.8 535.2 L222.6 535.2 L223.3 535.2 L224.1 535.2 L224.9 535.2 L225.6 535.2 L226.4 535.2 L227.2 535.2 L228.0 535.2 L228.7 535.2 L229.5 535.2 L230.3 535.2 L231.0 535.2 L231.8 535.2 L232.6 535.2 L233.4 535.1 L234.1 535.1 L234.9 535.1 L235.7 535.1 L236.4 535.1 L237.2 535.1 L238.0 535.0 L238.8 535.0 L239.5 535.0 L240.3 535.0 L241.1 535.0 L241.8 534.9 L242.6 534.9 L243.4 534.9 L244.1 534.8 L244.9 534.8 L245.7 534.8 L246.5 534.8 L247.2 534.7 L248.0 534.7 L248.8 534.6 L249.5 534.6 L250.3 534.6 L251.1 534.5 L251.9 534.5 L252.6 534.4 L253.4 534.4 L254.2 534.4 L254.9 534.3 L255.7 534.3 L256.5 534.2 L257.3 534.2 L258.0 534.1 L258.8 534.1 L259.6 534.0 L260.3 534.0 L261.1 533.9 L261.9 533.8 L262.6 533.8 L263.4 533.7 L264.2 533.7 L265.0 533.6 L265.7 533.6 L266.5 533.5 L267.3 533.4 L268.0 533.4 L268.8 533.3 L269.6 533.2 L270.4 533.2 L271.1 533.1 L271.9 533.0 L272.7 533.0 L273.4 532.9 L274.2 532.8 L275.0 532.8 L275.8 532.7 L276.5 532.6 L277.3 532.5 L278.1 532.5 L278.8 532.4 L279.6 532.3 L280.4 532.2 L281.1 532.1 L281.9 532.1 L282.7 532.0 L283.5 531.9 L284.2 531.8 L285.0 531.7 L285.8 531.7 L286.5 531.6 L287.3 531.5 L288.1 531.4 L288.9 531.3 L289.6 531.2 L290.4 531.2 L291.2 531.1 L291.9 531.0 L292.7 531.0 L293.5 530.9 L294.3 530.9 L295.0 530.8 L295.8 530.8 L296.6 530.7 L297.3 530.7 L298.1 530.6 L298.9 530.6 L299.6 530.6 L300.4 530.5 L301.2 530.5 L302.0 530.4 L302.7 530.4 L303.5 530.3 L304.3 530.3 L305.0 530.2 L305.8 530.1 L306.6 530.1 L307.4 530.0 L308.1 529.9 L308.9 529.9 L309.7 529.8 L310.4 529.7 L311.2 529.6 L312.0 529.5 L312.8 529.4 L313.5 529.3 L314.3 529.2 L315.1 529.1 L315.8 529.0 L316.6 528.9 L317.4 528.8 L318.2 528.7 L318.9 528.6 L319.7 528.5 L320.5 528.4 L321.2 528.3 L322.0 528.2 L322.8 528.1 L323.5 528.0 L324.3 527.9 L325.1 527.8 L325.9 527.8 L326.6 527.7 L327.4 527.6 L328.2 527.5 L328.9 527.4 L329.7 527.3 L330.5 527.2 L331.3 527.1 L332.0 527.0 L332.8 526.9 L333.6 526.8 L334.3 526.7 L335.1 526.7 L335.9 526.6 L336.7 526.5 L337.4 526.4 L338.2 526.3 L339.0 526.2 L339.7 526.2 L340.5 526.1 L341.3 526.0 L342.0 525.9 L342.8 525.8 L343.6 525.8 L344.4 525.7 L345.1 525.6 L345.9 525.5 L346.7 525.5 L347.4 525.4 L348.2 525.3 L349.0 525.2 L349.8 525.1 L350.5 525.1 L351.3 525.0 L352.1 524.9 L352.8 524.8 L353.6 524.8 L354.4 524.7 L355.2 524.6 L355.9 524.5 L356.7 524.5 L357.5 524.4 L358.2 524.3 L359.0 524.2 L359.8 524.2 L360.5 524.1 L361.3 524.0 L362.1 524.0 L362.9 523.9 L363.6 523.9 L364.4 523.8 L365.2 523.7 L365.9 523.7 L366.7 523.6 L367.5 523.6 L368.3 523.5 L369.0 523.5 L369.8 523.5 L370.6 523.4 L371.3 523.4 L372.1 523.3 L372.9 523.3 L373.7 523.3 L374.4 523.2 L375.2 523.2 L376.0 523.2 L376.7 523.1 L377.5 523.1 L378.3 523.1 L379.0 523.0 L379.8 523.0 L380.6 523.0 L381.4 522.9 L382.1 522.9 L382.9 522.9 L383.7 522.9 L384.4 522.9 L385.2 522.8 L386.0 522.8 L386.8 522.8 L387.5 522.8 L388.3 522.8 L389.1 522.8 L389.8 522.8 L390.6 522.7 L391.4 522.7 L392.2 522.7 L392.9 522.7 L393.7 522.7 L394.5 522.7 L395.2 522.7 L396.0 522.7 L396.8 522.7 L397.5 522.7 L398.3 522.7 L399.1 522.7 L399.9 522.7 L400.6 522.7 L401.4 522.7 L402.2 522.8 L402.9 522.8 L403.7 522.8 L404.5 522.8 L405.3 522.8 L406.0 522.8 L406.8 522.8 L407.6 522.9 L408.3 522.9 L409.1 522.9 L409.9 522.9 L410.7 522.9 L411.4 523.0 L412.2 523.0 L413.0 523.0 L413.7 523.1 L414.5 523.1 L415.3 523.1 L416.0 523.2 L416.8 523.2 L417.6 523.2 L418.4 523.3 L419.1 523.3 L419.9 523.3 L420.7 523.4 L421.4 523.4 L422.2 523.5 L423.0 523.5 L423.8 523.5 L424.5 523.6 L425.3 523.6 L426.1 523.7 L426.8 523.7 L427.6 523.8 L428.4 523.9 L429.2 523.9 L429.9 524.0 L430.7 524.0 L431.5 524.1 L432.2 524.2 L433.0 524.2 L433.8 524.3 L434.5 524.4 L435.3 524.5 L436.1 524.5 L436.9 524.6 L437.6 524.7 L438.4 524.8 L439.2 524.8 L439.9 524.9 L440.7 525.0 L441.5 525.1 L442.3 525.1 L443.0 525.2 L443.8 525.3 L444.6 525.4 L445.3 525.5 L446.1 525.5 L446.9 525.6 L447.7 525.7 L448.4 525.8 L449.2 525.8 L450.0 525.9 L450.7 526.0 L451.5 526.1 L452.3 526.2 L453.0 526.2 L453.8 526.3 L454.6 526.4 L455.4 526.5 L456.1 526.6 L456.9 526.7 L457.7 526.7 L458.4 526.8 L459.2 526.9 L460.0 527.0 L460.8 527.1 L461.5 527.2 L462.3 527.3 L463.1 527.4 L463.8 527.5 L464.6 527.6 L465.4 527.7 L466.2 527.8 L466.9 527.8 L467.7 527.9 L468.5 528.0 L469.2 528.1 L470.0 528.2 L470.8 528.3 L471.5 528.4 L472.3 528.5 L473.1 528.6 L473.9 528.7 L474.6 528.8 L475.4 528.9 L476.2 529.0 L476.9 529.1 L477.7 529.2 L478.5 529.3 L479.3 529.4 L480.0 529.5 L480.8 529.6 L481.6 529.7 L482.3 529.8 L483.1 529.9 L483.9 529.9 L484.7 530.0 L485.4 530.1 L486.2 530.1 L487.0 530.2 L487.7 530.3 L488.5 530.3 L489.3 530.4 L490.0 530.4 L490.8 530.5 L491.6 530.5 L492.4 530.6 L493.1 530.6 L493.9 530.6 L494.7 530.7 L495.4 530.7 L496.2 530.8 L497.0 530.8 L497.8 530.9 L498.5 530.9 L499.3 531.0 L500.1 531.0 L500.8 531.1 L501.6 531.2 L502.4 531.2 L503.2 531.3 L503.9 531.4 L504.7 531.5 L505.5 531.6 L506.2 531.7 L507.0 531.7 L507.8 531.8 L508.6 531.9 L509.3 532.0 L510.1 532.1 L510.9 532.1 L511.6 532.2 L512.4 532.3 L513.2 532.4 L513.9 532.5 L514.7 532.5 L515.5 532.6 L516.3 532.7 L517.0 532.8 L517.8 532.8 L518.6 532.9 L519.3 533.0 L520.1 533.0 L520.9 533.1 L521.7 533.2 L522.4 533.2 L523.2 533.3 L524.0 533.4 L524.7 533.4 L525.5 533.5 L526.3 533.6 L527.1 533.6 L527.8 533.7 L528.6 533.7 L529.4 533.8 L530.1 533.8 L530.9 533.9 L531.7 534.0 L532.4 534.0 L533.2 534.1 L534.0 534.1 L534.8 534.2 L535.5 534.2 L536.3 534.3 L537.1 534.3 L537.8 534.4 L538.6 534.4 L539.4 534.4 L540.2 534.5 L540.9 534.5 L541.7 534.6 L542.5 534.6 L543.2 534.6 L544.0 534.7 L544.8 534.7 L545.6 534.8 L546.3 534.8 L547.1 534.8 L547.9 534.8 L548.6 534.9 L549.4 534.9 L550.2 534.9 L550.9 535.0 L551.7 535.0 L552.5 535.0 L553.3 535.0 L554.0 535.0 L554.8 535.1 L555.6 535.1 L556.3 535.1 L557.1 535.1 L557.9 535.1 L558.7 535.1 L559.4 535.2 L560.2 535.2 L561.0 535.2 L561.7 535.2 L562.5 535.2 L563.3 535.2 L564.1 535.2 L564.8 535.2 L565.6 535.2 L566.4 535.2 L567.1 535.2 L567.9 535.2 L568.7 535.2 L569.4 535.2 L570.2 535.2 L571.0 535.1 L571.8 535.1 L572.5 535.1 L573.3 535.1 L574.1 535.1 L574.8 535.1 L575.6 535.0 L576.4 535.0 L577.2 535.0 L577.9 535.0 L578.7 535.0 L579.5 534.9 L580.2 534.9 L581.0 534.9 L581.8 534.8 L582.6 534.8 L583.3 534.8 L584.1 534.7 L584.9 534.7 L585.6 534.7 L586.4 534.6 L587.2 534.6 L587.9 534.6 L588.7 534.5 L589.5 534.5 L590.3 534.4 L591.0 534.4 L591.8 534.3 L592.6 534.3 L593.3 534.2 L594.1 534.2 L594.9 534.1 L595.7 534.1 L596.4 534.0 L597.2 534.0 L598.0 533.9 L598.7 533.9 L599.5 533.8 L600.3 533.8 L601.1 533.7 L601.8 533.7 L602.6 533.6 L603.4 533.6 L604.1 533.5 L604.9 533.4 L605.7 533.4 L606.4 533.3 L607.2 533.3 L608.0 533.2 L608.8 533.2 L609.5 533.1 L610.3 533.0 L611.1 533.0 L611.8 532.9 L612.6 532.9 L613.4 532.8 L614.2 532.7 L614.9 532.7 L615.7 532.6 L616.5 532.6 L617.2 532.5 L618.0 532.5 L618.8 532.4 L619.6 532.3 L620.3 532.3 L621.1 532.2 L621.9 532.2 L622.6 532.1 L623.4 532.1 L624.2 532.0 L624.9 531.9 L625.7 531.9 L626.5 531.8 L627.3 531.8 L628.0 531.7 L628.8 531.7 L629.6 531.6 L630.3 531.6 L631.1 531.5 L631.9 531.5 L632.7 531.4 L633.4 531.4 L634.2 531.4 L635.0 531.3 L635.7 531.3 L636.5 531.2 L637.3 531.2 L638.1 531.1 L638.8 531.1 L639.6 531.1 L640.4 531.0 L641.1 531.0 L641.9 530.9 L642.7 530.9 L643.4 530.9 L644.2 530.8 L645.0 530.8 L645.8 530.8 L646.5 530.7 L647.3 530.7 L648.1 530.7 L648.8 530.7 L649.6 530.6 L650.4 530.6 L651.2 530.6 L651.9 530.5 L652.7 530.5 L653.5 530.5 L654.2 530.5 L655.0 530.5 L655.8 530.4 L656.6 530.4 L657.3 530.4 L658.1 530.4 L658.9 530.4 L659.6 530.3 L660.4 530.3 L661.2 530.3 L661.9 530.3 L662.7 530.3 L663.5 530.3 L664.3 530.3 L665.0 530.3 L665.8 530.3 L666.6 530.2 L667.3 530.2 L668.1 530.2 L668.9 530.2 L669.7 530.2 L670.4 530.2 L671.2 530.2 L672.0 530.2 L672.7 530.2 L673.5 530.2" stroke="#ff0000" stroke-width="4.3" />
<path d="M118.5 150.1 L119.3 150.1 L120.0 150.1 L120.8 150.1 L121.6 150.1 L122.4 150.1 L123.1 150.1 L123.9 150.1 L124.7 150.1 L125.4 150.1 L126.2 150.1 L127.0 150.1 L127.8 150.1 L128.5 150.1 L129.3 150.1 L130.1 150.1 L130.8 150.1 L131.6 150.1 L132.4 150.1 L133.1 150.1 L133.9 150.1 L134.7 150.1 L135.5 150.1 L136.2 150.1 L137.0 150.0 L137.8 150.0 L138.5 150.0 L139.3 150.0 L140.1 150.0 L140.9 150.0 L141.6 150.0 L142.4 150.0 L143.2 150.0 L143.9 150.0 L144.7 150.0 L145.5 150.0 L146.3 150.0 L147.0 150.0 L147.8 149.9 L148.6 149.9 L149.3 149.9 L150.1 149.9 L150.9 149.9 L151.6 149.9 L152.4 149.9 L153.2 149.9 L154.0 149.9 L154.7 149.9 L155.5 149.8 L156.3 149.8 L157.0 149.8 L157.8 149.8 L158.6 149.8 L159.4 149.8 L160.1 149.8 L160.9 149.8 L161.7 149.7 L162.4 149.7 L163.2 149.7 L164.0 149.7 L164.8 149.7 L165.5 149.7 L166.3 149.7 L167.1 149.6 L167.8 149.6 L168.6 149.6 L169.4 149.6 L170.1 149.6 L170.9 149.6 L171.7 149.6 L172.5 149.5 L173.2 149.5 L174.0 149.5 L174.8 149.5 L175.5 149.5 L176.3 149.5 L177.1 149.5 L177.9 149.4 L178.6 149.4 L179.4 149.4 L180.2 149.4 L180.9 149.4 L181.7 149.4 L182.5 149.4 L183.3 149.4 L184.0 149.3 L184.8 149.3 L185.6 149.3 L186.3 149.3 L187.1 149.3 L187.9 149.3 L188.6 149.3 L189.4 149.3 L190.2 149.3 L191.0 149.3 L191.7 149.2 L192.5 149.2 L193.3 149.2 L194.0 149.2 L194.8 149.2 L195.6 149.2 L196.4 149.2 L197.1 149.2 L197.9 149.2 L198.7 149.2 L199.4 149.2 L200.2 149.2 L201.0 149.2 L201.8 149.2 L202.5 149.2 L203.3 149.2 L204.1 149.2 L204.8 149.3 L205.6 149.3 L206.4 149.3 L207.1 149.3 L207.9 149.3 L208.7 149.3 L209.5 149.3 L210.2 149.3 L211.0 149.4 L211.8 149.4 L212.5 149.4 L213.3 149.4 L214.1 149.5 L214.9 149.5 L215.6 149.5 L216.4 149.5 L217.2 149.6 L217.9 149.6 L218.7 149.6 L219.5 149.7 L220.3 149.7 L221.0 149.7 L221.8 149.8 L222.6 149.8 L223.3 149.9 L224.1 149.9 L224.9 150.0 L225.6 150.0 L226.4 150.0 L227.2 150.1 L228.0 150.2 L228.7 150.2 L229.5 150.3 L230.3 150.3 L231.0 150.4 L231.8 150.4 L232.6 150.5 L233.4 150.6 L234.1 150.6 L234.9 150.7 L235.7 150.8 L236.4 150.9 L237.2 150.9 L238.0 151.0 L238.8 151.1 L239.5 151.2 L240.3 151.2 L241.1 151.3 L241.8 151.4 L242.6 151.5 L243.4 151.6 L244.1 151.7 L244.9 151.8 L245.7 151.9 L246.5 151.9 L247.2 152.0 L248.0 152.1 L248.8 152.2 L249.5 152.3 L250.3 152.4 L251.1 152.5 L251.9 152.6 L252.6 152.7 L253.4 152.9 L254.2 153.0 L254.9 153.1 L255.7 153.2 L256.5 153.3 L257.3 153.4 L258.0 153.5 L258.8 153.6 L259.6 153.8 L260.3 153.9 L261.1 154.0 L261.9 154.1 L262.6 154.2 L263.4 154.4 L264.2 154.5 L265.0 154.6 L265.7 154.7 L266.5 154.9 L267.3 155.0 L268.0 155.1 L268.8 155.2 L269.6 155.4 L270.4 155.5 L271.1 155.6 L271.9 155.8 L272.7 155.9 L273.4 156.0 L274.2 156.2 L275.0 156.3 L275.8 156.4 L276.5 156.6 L277.3 156.7 L278.1 156.8 L278.8 157.0 L279.6 157.1 L280.4 157.2 L281.1 157.4 L281.9 157.5 L282.7 157.7 L283.5 157.8 L284.2 157.9 L285.0 158.1 L285.8 158.2 L286.5 158.4 L287.3 158.5 L288.1 158.6 L288.9 158.8 L289.6 158.9 L290.4 159.1 L291.2 159.2 L291.9 159.3 L292.7 159.5 L293.5 159.6 L294.3 159.8 L295.0 159.9 L295.8 160.0 L296.6 160.2 L297.3 160.3 L298.1 160.5 L298.9 160.6 L299.6 160.7 L300.4 160.9 L301.2 161.0 L302.0 161.2 L302.7 161.3 L303.5 161.4 L304.3 161.6 L305.0 161.7 L305.8 161.9 L306.6 162.0 L307.4 162.1 L308.1 162.3 L308.9 162.4 L309.7 162.5 L310.4 162.7 L311.2 162.8 L312.0 163.0 L312.8 163.1 L313.5 163.2 L314.3 163.4 L315.1 163.5 L315.8 163.6 L316.6 163.8 L317.4 163.9 L318.2 164.0 L318.9 164.2 L319.7 164.3 L320.5 164.4 L321.2 164.6 L322.0 164.7 L322.8 164.8 L323.5 165.0 L324.3 165.1 L325.1 165.2 L325.9 165.4 L326.6 165.5 L327.4 165.6 L328.2 165.7 L328.9 165.9 L329.7 166.0 L330.5 166.1 L331.3 166.2 L332.0 166.4 L332.8 166.5 L333.6 166.6 L334.3 166.7 L335.1 166.9 L335.9 167.0 L336.7 167.1 L337.4 167.2 L338.2 167.3 L339.0 167.5 L339.7 167.6 L340.5 167.7 L341.3 167.8 L342.0 167.9 L342.8 168.0 L343.6 168.2 L344.4 168.3 L345.1 168.4 L345.9 168.5 L346.7 168.6 L347.4 168.7 L348.2 168.8 L349.0 168.9 L349.8 169.0 L350.5 169.1 L351.3 169.2 L352.1 169.4 L352.8 169.5 L353.6 169.6 L354.4 169.7 L355.2 169.8 L355.9 169.8 L356.7 169.9 L357.5 170.0 L358.2 170.1 L359.0 170.2 L359.8 170.3 L360.5 170.4 L361.3 170.5 L362.1 170.6 L362.9 170.7 L363.6 170.7 L364.4 170.8 L365.2 170.9 L365.9 171.0 L366.7 171.1 L367.5 171.1 L368.3 171.2 L369.0 171.3 L369.8 171.4 L370.6 171.4 L371.3 171.5 L372.1 171.6 L372.9 171.6 L373.7 171.7 L374.4 171.7 L375.2 171.8 L376.0 171.8 L376.7 171.9 L377.5 172.0 L378.3 172.0 L379.0 172.1 L379.8 172.1 L380.6 172.1 L381.4 172.2 L382.1 172.2 L382.9 172.3 L383.7 172.3 L384.4 172.3 L385.2 172.4 L386.0 172.4 L386.8 172.4 L387.5 172.4 L388.3 172.5 L389.1 172.5 L389.8 172.5 L390.6 172.5 L391.4 172.5 L392.2 172.5 L392.9 172.6 L393.7 172.6 L394.5 172.6 L395.2 172.6 L396.0 172.6 L396.8 172.6 L397.5 172.6 L398.3 172.6 L399.1 172.6 L399.9 172.5 L400.6 172.5 L401.4 172.5 L402.2 172.5 L402.9 172.5 L403.7 172.5 L404.5 172.4 L405.3 172.4 L406.0 172.4 L406.8 172.4 L407.6 172.3 L408.3 172.3 L409.1 172.3 L409.9 172.2 L410.7 172.2 L411.4 172.1 L412.2 172.1 L413.0 172.1 L413.7 172.0 L414.5 172.0 L415.3 171.9 L416.0 171.8 L416.8 171.8 L417.6 171.7 L418.4 171.7 L419.1 171.6 L419.9 171.6 L420.7 171.5 L421.4 171.4 L422.2 171.4 L423.0 171.3 L423.8 171.2 L424.5 171.1 L425.3 171.1 L426.1 171.0 L426.8 170.9 L427.6 170.8 L428.4 170.7 L429.2 170.7 L429.9 170.6 L430.7 170.5 L431.5 170.4 L432.2 170.3 L433.0 170.2 L433.8 170.1 L434.5 170.0 L435.3 169.9 L436.1 169.8 L436.9 169.8 L437.6 169.7 L438.4 169.6 L439.2 169.5 L439.9 169.4 L440.7 169.2 L441.5 169.1 L442.3 169.0 L443.0 168.9 L443.8 168.8 L444.6 168.7 L445.3 168.6 L446.1 168.5 L446.9 168.4 L447.7 168.3 L448.4 168.2 L449.2 168.0 L450.0 167.9 L450.7 167.8 L451.5 167.7 L452.3 167.6 L453.0 167.5 L453.8 167.3 L454.6 167.2 L455.4 167.1 L456.1 167.0 L456.9 166.9 L457.7 166.7 L458.4 166.6 L459.2 166.5 L460.0 166.4 L460.8 166.2 L461.5 166.1 L462.3 166.0 L463.1 165.9 L463.8 165.7 L464.6 165.6 L465.4 165.5 L466.2 165.4 L466.9 165.2 L467.7 165.1 L468.5 165.0 L469.2 164.8 L470.0 164.7 L470.8 164.6 L471.5 164.4 L472.3 164.3 L473.1 164.2 L473.9 164.0 L474.6 163.9 L475.4 163.8 L476.2 163.6 L476.9 163.5 L477.7 163.4 L478.5 163.2 L479.3 163.1 L480.0 163.0 L480.8 162.8 L481.6 162.7 L482.3 162.5 L483.1 162.4 L483.9 162.3 L484.7 162.1 L485.4 162.0 L486.2 161.9 L487.0 161.7 L487.7 161.6 L488.5 161.4 L489.3 161.3 L490.0 161.2 L490.8 161.0 L491.6 160.9 L492.4 160.7 L493.1 160.6 L493.9 160.5 L494.7 160.3 L495.4 160.2 L496.2 160.0 L497.0 159.9 L497.8 159.8 L498.5 159.6 L499.3 159.5 L500.1 159.3 L500.8 159.2 L501.6 159.1 L502.4 158.9 L503.2 158.8 L503.9 158.6 L504.7 158.5 L505.5 158.4 L506.2 158.2 L507.0 158.1 L507.8 157.9 L508.6 157.8 L509.3 157.7 L510.1 157.5 L510.9 157.4 L511.6 157.2 L512.4 157.1 L513.2 157.0 L513.9 156.8 L514.7 156.7 L515.5 156.6 L516.3 156.4 L517.0 156.3 L517.8 156.2 L518.6 156.0 L519.3 155.9 L520.1 155.8 L520.9 155.6 L521.7 155.5 L522.4 155.4 L523.2 155.2 L524.0 155.1 L524.7 155.0 L525.5 154.9 L526.3 154.7 L527.1 154.6 L527.8 154.5 L528.6 154.4 L529.4 154.2 L530.1 154.1 L530.9 154.0 L531.7 153.9 L532.4 153.8 L533.2 153.6 L534.0 153.5 L534.8 153.4 L535.5 153.3 L536.3 153.2 L537.1 153.1 L537.8 153.0 L538.6 152.9 L539.4 152.7 L540.2 152.6 L540.9 152.5 L541.7 152.4 L542.5 152.3 L543.2 152.2 L544.0 152.1 L544.8 152.0 L545.6 151.9 L546.3 151.9 L547.1 151.8 L547.9 151.7 L548.6 151.6 L549.4 151.5 L550.2 151.4 L550.9 151.3 L551.7 151.2 L552.5 151.2 L553.3 151.1 L554.0 151.0 L554.8 150.9 L555.6 150.9 L556.3 150.8 L557.1 150.7 L557.9 150.6 L558.7 150.6 L559.4 150.5 L560.2 150.4 L561.0 150.4 L561.7 150.3 L562.5 150.3 L563.3 150.2 L564.1 150.2 L564.8 150.1 L565.6 150.0 L566.4 150.0 L567.1 150.0 L567.9 149.9 L568.7 149.9 L569.4 149.8 L570.2 149.8 L571.0 149.7 L571.8 149.7 L572.5 149.7 L573.3 149.6 L574.1 149.6 L574.8 149.6 L575.6 149.5 L576.4 149.5 L577.2 149.5 L577.9 149.5 L578.7 149.4 L579.5 149.4 L580.2 149.4 L581.0 149.4 L581.8 149.3 L582.6 149.3 L583.3 149.3 L584.1 149.3 L584.9 149.3 L585.6 149.3 L586.4 149.3 L587.2 149.3 L587.9 149.2 L588.7 149.2 L589.5 149.2 L590.3 149.2 L591.0 149.2 L591.8 149.2 L592.6 149.2 L593.3 149.2 L594.1 149.2 L594.9 149.2 L595.7 149.2 L596.4 149.2 L597.2 149.2 L598.0 149.2 L598.7 149.2 L599.5 149.2 L600.3 149.2 L601.1 149.3 L601.8 149.3 L602.6 149.3 L603.4 149.3 L604.1 149.3 L604.9 149.3 L605.7 149.3 L606.4 149.3 L607.2 149.3 L608.0 149.3 L608.8 149.4 L609.5 149.4 L610.3 149.4 L611.1 149.4 L611.8 149.4 L612.6 149.4 L613.4 149.4 L614.2 149.4 L614.9 149.5 L615.7 149.5 L616.5 149.5 L617.2 149.5 L618.0 149.5 L618.8 149.5 L619.6 149.5 L620.3 149.6 L621.1 149.6 L621.9 149.6 L622.6 149.6 L623.4 149.6 L624.2 149.6 L624.9 149.6 L625.7 149.7 L626.5 149.7 L627.3 149.7 L628.0 149.7 L628.8 149.7 L629.6 149.7 L630.3 149.7 L631.1 149.8 L631.9 149.8 L632.7 149.8 L633.4 149.8 L634.2 149.8 L635.0 149.8 L635.7 149.8 L636.5 149.8 L637.3 149.9 L638.1 149.9 L638.8 149.9 L639.6 149.9 L640.4 149.9 L641.1 149.9 L641.9 149.9 L642.7 149.9 L643.4 149.9 L644.2 149.9 L645.0 150.0 L645.8 150.0 L646.5 150.0 L647.3 150.0 L648.1 150.0 L648.8 150.0 L649.6 150.0 L650.4 150.0 L651.2 150.0 L651.9 150.0 L652.7 150.0 L653.5 150.0 L654.2 150.0 L655.0 150.0 L655.8 150.1 L656.6 150.1 L657.3 150.1 L658.1 150.1 L658.9 150.1 L659.6 150.1 L660.4 150.1 L661.2 150.1 L661.9 150.1 L662.7 150.1 L663.5 150.1 L664.3 150.1 L665.0 150.1 L665.8 150.1 L666.6 150.1 L667.3 150.1 L668.1 150.1 L668.9 150.1 L669.7 150.1 L670.4 150.1 L671.2 150.1 L672.0 150.1 L672.7 150.1 L673.5 150.1" stroke="#ff0000" stroke-width="3.3" stroke-dasharray="7.65 7.68" />
</g>
<g><path d="M312.9 212.7 H351.3" stroke="#0033cc" stroke-width="3.6" stroke-linecap="butt"/><text transform="translate(366.2 222.1) scale(0.972 1)" font-size="29">tan<tspan font-weight="normal" font-style="italic" dx="1.7" font-size="30.5">β</tspan><tspan dx="-0.3">=5</tspan></text><path d="M312.9 262.3 H351.3" stroke="#ff8000" stroke-width="4.0" stroke-linecap="butt"/><text transform="translate(366.2 271.7) scale(0.972 1)" font-size="29">tan<tspan font-weight="normal" font-style="italic" dx="1.7" font-size="30.5">β</tspan><tspan dx="-0.3">=10</tspan></text><path d="M312.9 311.9 H351.3" stroke="#009966" stroke-width="4.0" stroke-linecap="butt"/><text transform="translate(366.2 321.3) scale(0.972 1)" font-size="29">tan<tspan font-weight="normal" font-style="italic" dx="1.7" font-size="30.5">β</tspan><tspan dx="-0.3">=15</tspan></text><path d="M312.9 361.5 H351.3" stroke="#ff0000" stroke-width="4.0" stroke-linecap="butt"/><text transform="translate(366.2 370.9) scale(0.972 1)" font-size="29">tan<tspan font-weight="normal" font-style="italic" dx="1.7" font-size="30.5">β</tspan><tspan dx="-0.3">=20</tspan></text></g>
<path d="M118.50 579.9 v-7.6 M118.50 2.1 v7.6 M133.92 579.9 v-4.6 M133.92 2.1 v4.6 M149.33 579.9 v-4.6 M149.33 2.1 v4.6 M164.75 579.9 v-4.6 M164.75 2.1 v4.6 M180.17 579.9 v-4.6 M180.17 2.1 v4.6 M195.59 579.9 v-7.6 M195.59 2.1 v7.6 M211.00 579.9 v-4.6 M211.00 2.1 v4.6 M226.42 579.9 v-4.6 M226.42 2.1 v4.6 M241.84 579.9 v-4.6 M241.84 2.1 v4.6 M257.25 579.9 v-4.6 M257.25 2.1 v4.6 M272.67 579.9 v-7.6 M272.67 2.1 v7.6 M288.09 579.9 v-4.6 M288.09 2.1 v4.6 M303.50 579.9 v-4.6 M303.50 2.1 v4.6 M318.92 579.9 v-4.6 M318.92 2.1 v4.6 M334.34 579.9 v-4.6 M334.34 2.1 v4.6 M349.75 579.9 v-7.6 M349.75 2.1 v7.6 M365.17 579.9 v-4.6 M365.17 2.1 v4.6 M380.59 579.9 v-4.6 M380.59 2.1 v4.6 M396.01 579.9 v-4.6 M396.01 2.1 v4.6 M411.42 579.9 v-4.6 M411.42 2.1 v4.6 M426.84 579.9 v-7.6 M426.84 2.1 v7.6 M442.26 579.9 v-4.6 M442.26 2.1 v4.6 M457.67 579.9 v-4.6 M457.67 2.1 v4.6 M473.09 579.9 v-4.6 M473.09 2.1 v4.6 M488.51 579.9 v-4.6 M488.51 2.1 v4.6 M503.93 579.9 v-7.6 M503.93 2.1 v7.6 M519.34 579.9 v-4.6 M519.34 2.1 v4.6 M534.76 579.9 v-4.6 M534.76 2.1 v4.6 M550.18 579.9 v-4.6 M550.18 2.1 v4.6 M565.59 579.9 v-4.6 M565.59 2.1 v4.6 M581.01 579.9 v-7.6 M581.01 2.1 v7.6 M596.43 579.9 v-4.6 M596.43 2.1 v4.6 M611.84 579.9 v-4.6 M611.84 2.1 v4.6 M627.26 579.9 v-4.6 M627.26 2.1 v4.6 M642.68 579.9 v-4.6 M642.68 2.1 v4.6 M658.10 579.9 v-7.6 M658.10 2.1 v7.6 M673.51 579.9 v-4.6 M673.51 2.1 v4.6 M107.05 569.10 h4.6 M684.75 569.10 h-4.6 M107.05 534.00 h4.6 M684.75 534.00 h-4.6 M107.05 498.90 h7.6 M684.75 498.90 h-7.6 M107.05 463.80 h4.6 M684.75 463.80 h-4.6 M107.05 428.70 h4.6 M684.75 428.70 h-4.6 M107.05 393.60 h4.6 M684.75 393.60 h-4.6 M107.05 358.50 h7.6 M684.75 358.50 h-7.6 M107.05 323.40 h4.6 M684.75 323.40 h-4.6 M107.05 288.30 h4.6 M684.75 288.30 h-4.6 M107.05 253.20 h4.6 M684.75 253.20 h-4.6 M107.05 218.10 h7.6 M684.75 218.10 h-7.6 M107.05 183.00 h4.6 M684.75 183.00 h-4.6 M107.05 147.90 h4.6 M684.75 147.90 h-4.6 M107.05 112.80 h4.6 M684.75 112.80 h-4.6 M107.05 77.70 h7.6 M684.75 77.70 h-7.6 M107.05 42.60 h4.6 M684.75 42.60 h-4.6 M107.05 7.50 h4.6 M684.75 7.50 h-4.6" stroke="#222" stroke-width="1.2" fill="none"/>
<g fill="none" stroke-linecap="butt">
<path d="M107.05 1.25 V580.75" stroke="#383838" stroke-width="1.7"/>
<path d="M106.2 579.9 H685" stroke="#404040" stroke-width="1.7"/>
<path d="M106.2 1.95 H685" stroke="#484848" stroke-width="1.5"/>
<path d="M684.6 1.2 V580.75" stroke="#181818" stroke-width="1.8"/>
</g>
<g font-size="29.8"><text transform="translate(118.5 608.5) scale(0.985 1)" text-anchor="middle">0</text><text transform="translate(195.6 608.5) scale(0.985 1)" text-anchor="middle">50</text><text transform="translate(272.7 608.5) scale(0.985 1)" text-anchor="middle">100</text><text transform="translate(349.8 608.5) scale(0.985 1)" text-anchor="middle">150</text><text transform="translate(426.8 608.5) scale(0.985 1)" text-anchor="middle">200</text><text transform="translate(503.9 608.5) scale(0.985 1)" text-anchor="middle">250</text><text transform="translate(581.0 608.5) scale(0.985 1)" text-anchor="middle">300</text><text transform="translate(658.1 608.5) scale(0.985 1)" text-anchor="middle">350</text><text transform="translate(101.2 507.0) scale(0.956 1)" text-anchor="end">490</text><text transform="translate(101.2 366.6) scale(0.956 1)" text-anchor="end">492</text><text transform="translate(101.2 226.2) scale(0.956 1)" text-anchor="end">494</text><text transform="translate(101.2 85.8) scale(0.956 1)" text-anchor="end">496</text></g>
<g transform="translate(25.5 360.0) rotate(-90)" font-size="34.8">
<text x="0" y="0"><tspan font-style="italic">m</tspan><tspan font-style="italic" font-size="25.2" dy="6" dx="-1.8">H</tspan><tspan font-style="italic" font-size="17" dy="3.5">i</tspan><tspan font-weight="normal" dy="-9.5" dx="-0.4">[</tspan><tspan dx="-0.3">GeV</tspan><tspan font-weight="normal" dx="-0.3">]</tspan></text>
</g>
<g font-size="34.5" font-weight="normal">
<text transform="translate(356.8 655.5) scale(1.16 1)" style="font-style:italic;font-weight:normal">φ</text>
<text transform="translate(381.6 662.7) scale(1.08 1)" style="font-style:italic;font-weight:bold;font-size:24.6px">A</text>
<text transform="translate(400.7 657.9) scale(1 1.1)" style="font-weight:normal">[</text>
<text transform="translate(410.6 655.6) scale(1.13 1.02)" style="font-weight:normal">°</text>
<text transform="translate(426.5 657.9) scale(1 1.1)" style="font-weight:normal">]</text>
</g>
</svg>
</body></html>
